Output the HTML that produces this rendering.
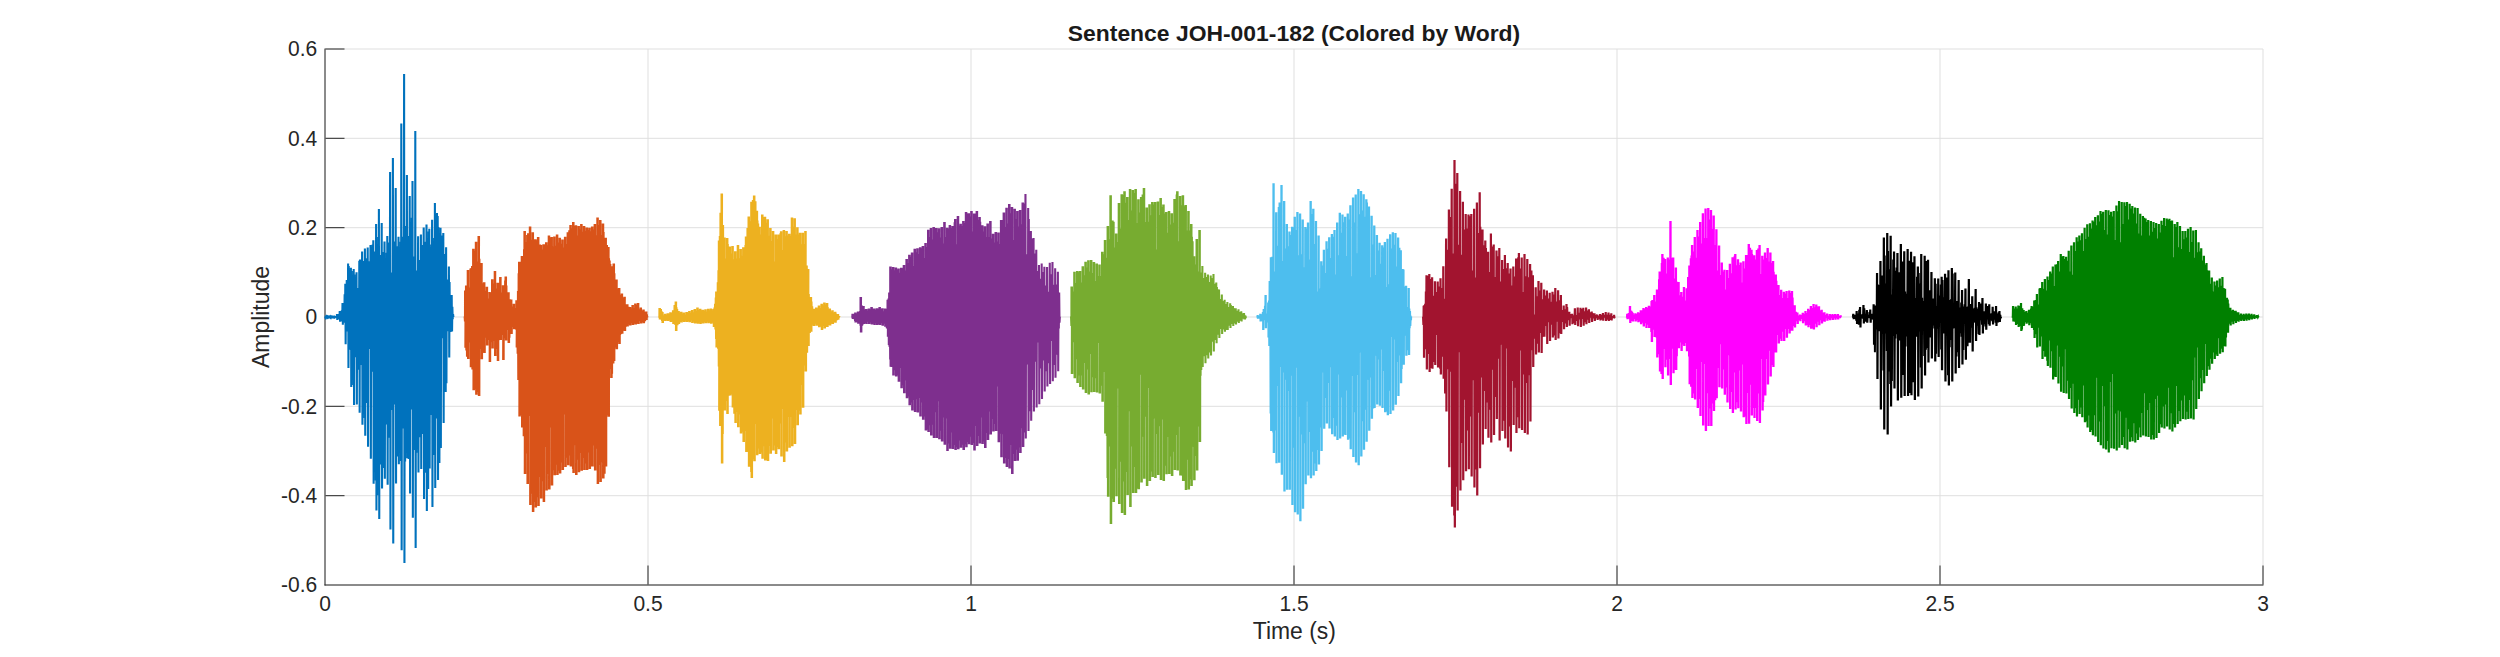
<!DOCTYPE html>
<html lang="en"><head><meta charset="utf-8"><title>Sentence JOH-001-182 (Colored by Word)</title>
<style>html,body{margin:0;padding:0;background:#fff}body{width:2500px;height:657px;overflow:hidden}svg{display:block}text{font-family:"Liberation Sans",sans-serif;fill:#262626}.tk{font-size:20.8px}.lb{font-size:22.9px}.tt{font-size:22.9px;font-weight:bold;fill:#1a1a1a}.wave polyline{fill:none;stroke-width:2;stroke-linejoin:miter;stroke-miterlimit:3}</style></head><body>
<svg width="2500" height="657" viewBox="0 0 2500 657">
<rect width="2500" height="657" fill="#fff"/>
<path d="M325.0 49.0V585.0M648.0 49.0V585.0M971.0 49.0V585.0M1294.0 49.0V585.0M1617.0 49.0V585.0M1940.0 49.0V585.0M2263.0 49.0V585.0M325.0 49.0H2263.0M325.0 138.3H2263.0M325.0 227.7H2263.0M325.0 317.0H2263.0M325.0 406.3H2263.0M325.0 495.7H2263.0M325.0 585.0H2263.0" stroke="#dfdfdf" stroke-width="1" fill="none"/>
<path d="M325.0 48.5V585.5M324.5 585.0H2263.5M648.0 584.5v-19.0M971.0 584.5v-19.0M1294.0 584.5v-19.0M1617.0 584.5v-19.0M1940.0 584.5v-19.0M2263.0 584.5v-19.0M325.5 49.0h19.0M325.5 138.3h19.0M325.5 227.7h19.0M325.5 317.0h19.0M325.5 406.3h19.0M325.5 495.7h19.0" stroke="#262626" stroke-width="1" fill="none"/>
<g class="wave">
<polyline points="325.00,316.7 325.35,317.5 325.65,316.6 325.75,316.6 326.00,317.6 326.10,317.6 326.40,316.8 326.75,317.5 327.10,316.8 327.45,317.4 327.80,316.7 328.15,317.2 328.45,316.6 328.55,316.6 328.80,317.6 328.90,317.6 329.20,316.8 329.55,317.2 329.90,316.7 330.25,317.2 330.60,316.6 330.95,317.4 331.25,316.6 331.35,316.6 331.60,317.6 331.70,317.6 332.00,316.8 332.35,317.1 332.70,316.7 333.05,317.1 333.40,316.8 333.75,317.2 334.05,316.5 334.15,316.5 334.40,317.8 334.50,317.8 334.80,316.4 335.15,317.4 335.50,316.2 335.85,317.3 336.20,316.2 336.55,317.3 336.85,315.1 336.95,315.1 337.20,319.1 337.30,319.1 337.60,315.4 337.95,317.4 338.30,314.2 338.65,317.5 339.00,314.8 339.35,319.5 339.65,312.0 339.75,312.0 340.00,320.7 340.10,320.7 340.40,312.1 340.75,319.5 341.10,312.9 341.45,318.8 341.80,310.3 342.15,321.5 342.45,304.1 342.55,304.1 342.80,323.8 342.90,323.8 343.20,308.7 343.55,320.3 343.90,304.4 344.25,320.1 344.60,294.2 344.95,322.7 345.25,284.7 345.35,284.7 345.60,343.3 345.70,343.3 346.00,287.6 346.35,331.5 346.70,279.9 347.05,323.1 347.40,283.8 347.75,325.2 348.05,264.4 348.15,264.4 348.40,367.1 348.50,367.1 348.80,266.0 349.15,327.1 349.50,277.6 349.85,330.2 350.20,272.0 350.55,349.7 350.85,268.8 350.95,268.8 351.20,386.0 351.30,386.0 351.60,271.1 351.95,376.6 352.30,283.0 352.65,329.1 353.00,291.3 353.35,384.9 353.65,269.9 353.75,269.9 354.00,404.0 354.10,404.0 354.40,274.5 354.75,357.3 355.10,284.4 355.45,338.6 355.80,288.8 356.15,333.2 356.45,273.3 356.55,273.3 356.80,403.4 356.90,403.4 357.20,287.9 357.55,349.4 357.90,288.7 358.25,369.7 358.60,291.1 358.95,339.5 359.25,261.7 359.35,261.7 359.60,411.8 359.70,411.8 360.00,259.4 360.35,365.1 360.70,278.0 361.05,353.3 361.40,260.1 361.75,341.2 362.05,252.4 362.15,252.4 362.40,423.8 362.50,423.8 362.80,276.7 363.15,355.3 363.50,260.9 363.85,410.6 364.20,281.3 364.55,417.9 364.85,249.4 364.95,249.4 365.20,434.8 365.30,434.8 365.60,258.3 365.95,336.5 366.30,273.7 366.65,403.1 367.00,282.8 367.35,374.9 367.65,248.4 367.75,248.4 368.00,445.8 368.10,445.8 368.40,261.3 368.75,340.8 369.10,279.4 369.45,349.0 369.80,279.3 370.15,348.4 370.45,246.1 370.55,246.1 370.80,457.8 370.90,457.8 371.20,274.0 371.55,346.0 371.90,247.0 372.25,361.5 372.60,244.6 372.95,371.8 373.25,241.3 373.35,241.3 373.60,482.8 373.70,482.8 374.00,251.6 374.35,387.9 374.70,263.4 375.05,460.9 375.40,261.4 375.75,480.5 376.05,225.1 376.15,225.1 376.40,509.6 376.50,509.6 376.80,251.3 377.15,495.2 377.50,261.2 377.85,451.9 378.20,237.0 378.55,428.6 378.85,210.0 378.95,210.0 379.20,518.0 379.30,518.0 379.60,255.1 379.95,365.9 380.30,262.3 380.65,344.2 381.00,264.0 381.35,464.4 381.65,224.0 381.75,224.0 382.00,487.5 382.10,487.5 382.40,251.9 382.75,370.4 383.10,255.8 383.45,397.9 383.80,270.7 384.15,468.1 384.45,242.6 384.55,242.6 384.80,477.7 384.90,477.7 385.20,263.0 385.55,344.1 385.90,279.2 386.25,359.5 386.60,252.8 386.95,424.4 387.25,237.0 387.35,237.0 387.60,483.7 387.70,483.7 388.00,242.4 388.35,437.7 388.70,244.8 389.05,385.0 389.40,242.9 389.75,347.9 390.05,173.0 390.15,173.0 390.40,528.5 390.50,528.5 390.80,272.5 391.15,357.9 391.50,274.3 391.85,403.3 392.20,277.2 392.55,409.9 392.85,159.0 392.95,159.0 393.20,542.4 393.30,542.4 393.60,277.4 393.95,361.4 394.30,241.6 394.65,387.9 395.00,248.6 395.35,404.4 395.65,189.0 395.75,189.0 396.00,482.5 396.10,482.5 396.40,260.3 396.75,340.8 397.10,249.1 397.45,456.4 397.80,246.3 398.15,338.6 398.45,237.7 398.55,237.7 398.80,463.3 398.90,463.3 399.20,275.6 399.55,394.0 399.90,247.4 400.25,358.7 400.60,241.8 400.95,460.9 401.25,124.4 401.35,124.4 401.60,549.2 401.70,549.2 402.00,236.8 402.35,357.9 402.70,252.5 403.05,428.5 403.40,249.1 403.75,354.5 404.05,75.0 404.15,75.0 404.40,562.0 404.50,562.0 404.80,232.9 405.15,461.4 405.50,258.6 405.85,421.4 406.20,226.1 406.55,443.5 406.85,176.0 406.95,176.0 407.20,457.2 407.30,457.2 407.60,235.9 407.95,343.6 408.30,238.5 408.65,459.1 409.00,246.5 409.35,348.9 409.65,197.0 409.75,197.0 410.00,492.4 410.10,492.4 410.40,255.8 410.75,362.6 411.10,256.1 411.45,409.6 411.80,217.8 412.15,365.3 412.45,182.0 412.55,182.0 412.80,516.7 412.90,516.7 413.20,259.0 413.55,356.1 413.90,256.4 414.25,381.4 414.60,266.8 414.95,450.0 415.25,132.0 415.35,132.0 415.60,547.0 415.70,547.0 416.00,270.6 416.35,452.7 416.70,271.4 417.05,348.6 417.40,273.3 417.75,344.0 418.05,237.3 418.15,237.3 418.40,471.6 418.50,471.6 418.80,272.5 419.15,424.9 419.50,259.9 419.85,342.8 420.20,266.1 420.55,437.2 420.85,235.4 420.95,235.4 421.20,467.9 421.30,467.9 421.60,273.7 421.95,406.9 422.30,245.0 422.65,433.9 423.00,249.4 423.35,359.5 423.65,228.4 423.75,228.4 424.00,498.0 424.10,498.0 424.40,242.3 424.75,349.0 425.10,265.0 425.45,385.8 425.80,241.7 426.15,472.8 426.45,225.6 426.55,225.6 426.80,510.0 426.90,510.0 427.20,238.6 427.55,404.2 427.90,243.3 428.25,489.0 428.60,231.6 428.95,435.7 429.25,229.8 429.35,229.8 429.60,467.6 429.70,467.6 430.00,252.7 430.35,342.6 430.70,247.3 431.05,415.1 431.40,244.4 431.75,367.0 432.05,220.8 432.15,220.8 432.40,506.0 432.50,506.0 432.80,265.5 433.15,455.1 433.50,241.0 433.85,363.5 434.20,237.9 434.55,416.3 434.85,204.0 434.95,204.0 435.20,487.0 435.30,487.0 435.60,214.2 435.95,359.5 436.30,260.4 436.65,418.5 437.00,213.1 437.35,343.6 437.65,217.1 437.75,217.1 438.00,479.1 438.10,479.1 438.40,227.1 438.75,342.2 439.10,270.3 439.45,463.0 439.80,270.9 440.15,340.6 440.45,228.8 440.55,228.8 440.80,447.1 440.90,447.1 441.20,244.7 441.55,338.2 441.90,235.4 442.25,338.0 442.60,245.7 442.95,333.9 443.25,234.0 443.35,234.0 443.60,422.0 443.70,422.0 444.00,269.5 444.35,337.9 444.70,254.0 445.05,342.9 445.40,279.9 445.75,392.1 446.05,248.3 446.15,248.3 446.40,382.2 446.50,382.2 446.80,279.6 447.15,331.2 447.50,281.3 447.85,324.0 448.20,286.8 448.55,330.8 448.85,267.5 448.95,267.5 449.20,356.5 449.30,356.5 449.60,281.9 449.95,329.3 450.30,300.3 450.65,331.9 451.00,302.2 451.35,324.4 451.65,295.9 451.75,295.9 452.00,330.4 452.10,330.4 452.40,306.7 452.75,319.3 453.10,314.2 453.45,317.2" stroke="#0072BD"/>
<polyline points="464.60,316.5 464.94,321.5 465.00,291.4 465.55,291.4 465.33,346.7 465.89,346.7 465.95,285.4 466.29,350.5 466.62,297.6 466.96,356.7 467.30,294.9 467.64,340.6 467.69,271.0 468.25,271.0 468.03,358.0 468.59,358.0 468.65,299.4 468.99,333.2 469.32,287.4 469.66,329.7 470.00,297.3 470.34,342.5 470.39,269.6 470.95,269.6 470.73,366.3 471.29,366.3 471.35,267.9 471.69,361.0 472.02,266.0 472.36,369.6 472.70,265.9 473.04,368.8 473.09,249.8 473.65,249.8 473.43,389.3 473.99,389.3 474.05,260.0 474.39,345.7 474.72,250.7 475.06,368.3 475.40,276.7 475.74,389.3 475.79,242.8 476.35,242.8 476.13,393.8 476.69,393.8 476.75,283.9 477.09,392.1 477.42,261.5 477.76,382.3 478.10,275.2 478.44,373.4 478.49,237.0 479.05,237.0 478.83,395.0 479.39,395.0 479.45,258.7 479.79,341.2 480.12,284.7 480.46,349.1 480.80,270.2 481.14,337.5 481.19,264.0 481.75,264.0 481.53,358.2 482.09,358.2 482.15,283.2 482.49,349.3 482.82,298.7 483.16,346.8 483.50,301.7 483.84,352.4 483.89,283.3 484.45,283.3 484.23,352.1 484.79,352.1 484.85,290.8 485.19,337.7 485.52,291.5 485.86,327.3 486.20,295.7 486.54,335.0 486.59,287.8 487.15,287.8 486.93,344.6 487.49,344.6 487.55,299.4 487.89,340.0 488.22,298.6 488.56,329.5 488.90,298.8 489.24,334.8 489.29,293.1 489.85,293.1 489.63,361.0 490.19,361.0 490.25,305.0 490.59,338.2 490.92,293.1 491.26,342.3 491.60,293.8 491.94,341.7 491.99,280.3 492.55,280.3 492.33,347.6 492.89,347.6 492.95,283.5 493.29,341.0 493.62,286.9 493.96,335.4 494.30,287.9 494.64,336.1 494.69,272.0 495.25,272.0 495.03,354.9 495.59,354.9 495.65,288.5 495.99,349.0 496.32,292.0 496.66,337.6 497.00,289.8 497.34,338.0 497.39,283.8 497.95,283.8 497.73,360.0 498.29,360.0 498.35,294.7 498.69,340.3 499.02,301.5 499.36,331.1 499.70,283.1 500.04,333.2 500.09,278.0 500.65,278.0 500.43,339.0 500.99,339.0 501.05,292.6 501.39,333.7 501.72,299.7 502.06,329.6 502.40,301.7 502.74,335.1 502.79,286.2 503.35,286.2 503.13,359.0 503.69,359.0 503.75,298.1 504.09,335.3 504.42,296.3 504.76,334.4 505.10,280.6 505.44,338.3 505.49,277.4 506.05,277.4 505.83,339.6 506.39,339.6 506.45,285.4 506.79,330.1 507.12,293.3 507.46,324.0 507.80,293.3 508.14,327.5 508.19,293.3 508.75,293.3 508.53,342.0 509.09,342.0 509.15,303.6 509.49,337.8 509.82,299.3 510.16,331.1 510.50,301.7 510.84,328.5 510.89,300.4 511.45,300.4 511.23,332.9 511.79,332.9 511.85,309.7 512.19,323.1 512.52,306.5 512.86,326.9 513.20,312.2 513.54,326.0 513.59,304.8 514.15,304.8 513.93,328.3 514.49,328.3 514.55,311.2 514.89,326.2 515.22,309.3 515.56,326.5 515.90,308.0 516.24,329.8 516.29,301.3 516.85,301.3 516.63,346.6 517.19,346.6 517.25,302.7 517.59,353.8 517.92,291.0 518.26,379.9 518.60,273.2 518.94,372.0 518.99,262.8 519.55,262.8 519.33,415.6 519.89,415.6 519.95,267.5 520.29,415.1 520.62,261.8 520.96,381.6 521.30,269.2 521.64,391.1 521.69,257.0 522.25,257.0 522.03,426.5 522.59,426.5 522.65,259.6 522.99,411.0 523.32,259.6 523.66,436.2 524.00,249.2 524.34,423.2 524.39,232.0 524.95,232.0 524.73,473.0 525.29,473.0 525.35,242.2 525.69,404.5 526.02,244.9 526.36,453.6 526.70,253.0 527.04,406.7 527.09,236.1 527.65,236.1 527.43,482.9 527.99,482.9 528.05,233.2 528.39,388.1 528.72,245.4 529.06,416.1 529.40,237.6 529.74,389.6 529.79,227.6 530.35,227.6 530.13,504.1 530.69,504.1 530.75,242.1 531.09,493.7 531.42,244.2 531.76,478.7 532.10,239.7 532.44,459.3 532.49,233.2 533.05,233.2 532.83,511.0 533.39,511.0 533.45,239.3 533.79,502.0 534.12,247.0 534.46,404.7 534.80,246.4 535.14,475.0 535.19,240.3 535.75,240.3 535.53,506.4 536.09,506.4 536.15,240.2 536.49,497.2 536.82,254.8 537.16,444.3 537.50,256.6 537.84,492.4 537.89,238.0 538.45,238.0 538.23,505.0 538.79,505.0 538.85,247.0 539.19,476.9 539.52,247.1 539.86,466.6 540.20,244.4 540.54,468.1 540.59,246.1 541.15,246.1 540.93,497.4 541.49,497.4 541.55,264.9 541.89,478.0 542.22,253.6 542.56,451.9 542.90,249.4 543.24,481.3 543.29,245.3 543.85,245.3 543.63,501.0 544.19,501.0 544.25,258.6 544.59,419.6 544.92,255.0 545.26,446.9 545.60,244.5 545.94,429.6 545.99,243.2 546.55,243.2 546.33,489.5 546.89,489.5 546.95,245.2 547.29,442.2 547.62,260.3 547.96,474.0 548.30,253.1 548.64,411.8 548.69,236.4 549.25,236.4 549.03,488.5 549.59,488.5 549.65,251.3 549.99,427.4 550.32,237.7 550.66,427.3 551.00,242.2 551.34,408.5 551.39,237.9 551.95,237.9 551.73,484.5 552.29,484.5 552.35,246.5 552.69,389.5 553.02,246.4 553.36,470.3 553.70,255.3 554.04,421.1 554.09,237.6 554.65,237.6 554.43,474.3 554.99,474.3 555.05,249.1 555.39,448.5 555.72,245.7 556.06,464.7 556.40,248.3 556.74,458.0 556.79,235.6 557.35,235.6 557.13,474.0 557.69,474.0 557.75,247.7 558.09,456.0 558.42,242.4 558.76,429.4 559.10,256.7 559.44,470.8 559.49,238.8 560.05,238.8 559.83,472.6 560.39,472.6 560.45,243.8 560.79,418.1 561.12,248.9 561.46,462.5 561.80,249.8 562.14,417.7 562.19,240.5 562.75,240.5 562.53,469.0 563.09,469.0 563.15,253.4 563.49,414.6 563.82,253.9 564.16,388.0 564.50,247.5 564.84,407.9 564.89,237.7 565.45,237.7 565.23,466.0 565.79,466.0 565.85,249.6 566.19,438.1 566.52,244.0 566.86,389.2 567.20,251.1 567.54,457.8 567.59,233.2 568.15,233.2 567.93,464.2 568.49,464.2 568.55,249.8 568.89,438.2 569.22,230.2 569.56,455.5 569.90,248.8 570.24,432.8 570.29,226.0 570.85,226.0 570.63,465.4 571.19,465.4 571.25,245.5 571.59,413.6 571.92,228.3 572.26,433.0 572.60,235.1 572.94,468.9 572.99,223.0 573.55,223.0 573.33,471.9 573.89,471.9 573.95,235.4 574.29,404.5 574.62,244.1 574.96,444.6 575.30,226.0 575.64,445.2 575.69,226.3 576.25,226.3 576.03,474.0 576.59,474.0 576.65,235.5 576.99,456.8 577.32,235.5 577.66,459.8 578.00,235.9 578.34,409.3 578.39,227.0 578.95,227.0 578.73,471.3 579.29,471.3 579.35,243.8 579.69,445.9 580.02,229.6 580.36,400.7 580.70,234.6 581.04,453.1 581.09,225.0 581.65,225.0 581.43,469.8 581.99,469.8 582.05,237.6 582.39,439.0 582.72,231.7 583.06,440.2 583.40,245.3 583.74,457.9 583.79,227.1 584.35,227.1 584.13,469.0 584.69,469.0 584.75,242.7 585.09,404.8 585.42,230.8 585.76,463.6 586.10,248.6 586.44,421.2 586.49,228.4 587.05,228.4 586.83,469.0 587.39,469.0 587.45,230.0 587.79,390.1 588.12,245.5 588.46,434.0 588.80,237.8 589.14,452.4 589.19,228.8 589.75,228.8 589.53,468.1 590.09,468.1 590.15,240.9 590.49,466.5 590.82,232.6 591.16,396.2 591.50,231.2 591.84,417.3 591.89,227.4 592.45,227.4 592.23,465.5 592.79,465.5 592.85,229.4 593.19,401.3 593.52,237.0 593.86,445.4 594.20,235.3 594.54,403.2 594.59,225.1 595.15,225.1 594.93,469.4 595.49,469.4 595.55,245.4 595.89,410.7 596.22,242.3 596.56,436.2 596.90,235.3 597.24,448.7 597.29,218.4 597.85,218.4 597.63,483.0 598.19,483.0 598.25,233.2 598.59,465.1 598.92,235.4 599.26,437.5 599.60,224.9 599.94,437.1 599.99,221.0 600.55,221.0 600.33,480.9 600.89,480.9 600.95,236.4 601.29,462.2 601.62,238.5 601.96,406.0 602.30,234.9 602.64,450.8 602.69,224.5 603.25,224.5 603.03,477.5 603.59,477.5 603.65,232.1 603.99,439.3 604.32,248.5 604.66,473.8 605.00,241.1 605.34,399.9 605.39,238.7 605.95,238.7 605.73,465.4 606.29,465.4 606.35,257.5 606.69,414.0 607.02,245.0 607.36,370.4 607.70,247.3 608.04,415.2 608.09,248.1 608.65,248.1 608.43,415.8 608.99,415.8 609.05,258.2 609.39,365.7 609.72,260.5 610.06,368.9 610.40,264.0 610.74,350.8 610.79,269.8 611.35,269.8 611.13,377.0 611.69,377.0 611.75,270.1 612.09,373.7 612.42,266.2 612.76,354.8 613.10,276.3 613.44,363.6 613.49,264.4 614.05,264.4 613.83,360.0 614.39,360.0 614.45,273.2 614.79,346.2 615.12,285.8 615.46,347.6 615.80,286.2 616.14,342.4 616.19,280.4 616.75,280.4 616.53,348.3 617.09,348.3 617.15,294.6 617.49,335.7 617.82,288.5 618.16,340.7 618.50,291.2 618.84,342.2 618.89,289.1 619.45,289.1 619.23,343.1 619.79,343.1 619.85,298.5 620.19,334.9 620.52,295.1 620.86,333.9 621.20,300.3 621.54,332.9 621.59,294.6 622.15,294.6 621.93,332.8 622.49,332.8 622.55,297.7 622.89,330.6 623.22,301.5 623.56,329.3 623.90,304.1 624.24,327.5 624.29,297.7 624.85,297.7 624.63,330.1 625.19,330.1 625.25,304.2 625.59,327.1 625.92,304.3 626.26,324.2 626.60,305.3 626.94,323.2 626.99,305.3 627.55,305.3 627.33,325.6 627.89,325.6 627.95,309.2 628.29,322.4 628.62,306.7 628.96,322.6 629.30,308.8 629.64,324.6 629.69,308.0 630.25,308.0 630.03,324.5 630.59,324.5 630.65,309.3 630.99,323.2 631.32,308.2 631.66,322.3 632.00,309.3 632.34,321.3 632.39,306.0 632.95,306.0 632.73,324.0 633.29,324.0 633.35,309.7 633.69,321.7 634.02,308.2 634.36,321.3 634.70,309.5 635.04,323.5 635.09,304.5 635.65,304.5 635.43,323.5 635.99,323.5 636.05,305.8 636.39,320.9 636.72,308.0 637.06,323.2 637.40,305.0 637.74,322.3 637.79,304.0 638.35,304.0 638.13,323.1 638.69,323.1 638.75,310.5 639.09,321.1 639.42,311.0 639.76,320.8 640.10,309.4 640.44,320.7 640.49,308.5 641.05,308.5 640.83,322.6 641.39,322.6 641.45,311.1 641.79,321.1 642.12,312.2 642.46,322.0 642.80,310.8 643.14,321.3 643.19,310.4 643.75,310.4 643.53,322.2 644.09,322.2 644.15,312.7 644.49,321.2 644.82,311.5 645.16,321.3 645.50,312.6 645.84,319.6 645.89,312.4 646.45,312.4 646.23,318.9 646.79,318.9 646.85,314.4 647.19,317.3 647.52,316.1" stroke="#D95319"/>
<polyline points="659.00,316.4 659.34,317.3 659.39,309.0 659.95,309.0 659.73,318.4 660.29,318.4 660.35,313.3 660.69,319.5 661.02,309.1 661.36,319.8 661.70,311.4 662.04,320.9 662.09,313.1 662.65,313.1 662.43,322.0 662.99,322.0 663.05,315.8 663.39,320.3 663.72,315.6 664.06,320.3 664.40,315.2 664.74,320.0 664.79,314.7 665.35,314.7 665.13,320.0 665.69,320.0 665.75,315.2 666.09,319.9 666.42,314.9 666.76,319.0 667.10,315.3 667.44,320.0 667.49,314.2 668.05,314.2 667.83,320.0 668.39,320.0 668.45,314.7 668.79,319.5 669.12,314.6 669.46,320.2 669.80,313.7 670.14,319.4 670.19,313.3 670.75,313.3 670.53,320.9 671.09,320.9 671.15,313.2 671.49,320.7 671.82,313.1 672.16,320.9 672.50,313.8 672.84,321.6 672.89,311.2 673.45,311.2 673.23,323.0 673.79,323.0 673.85,310.9 674.19,323.0 674.52,305.0 674.86,324.4 675.20,308.1 675.54,325.1 675.59,302.6 676.15,302.6 675.93,330.0 676.49,330.0 676.55,307.2 676.89,324.9 677.22,308.9 677.56,325.3 677.90,312.5 678.24,322.7 678.29,312.1 678.85,312.1 678.63,322.9 679.19,322.9 679.25,312.5 679.59,322.5 679.92,313.4 680.26,321.3 680.60,312.8 680.94,320.7 680.99,312.7 681.55,312.7 681.33,321.6 681.89,321.6 681.95,313.4 682.29,320.3 682.62,313.7 682.96,320.9 683.30,314.6 683.64,320.7 683.69,313.4 684.25,313.4 684.03,321.0 684.59,321.0 684.65,314.4 684.99,319.6 685.32,314.5 685.66,320.5 686.00,314.6 686.34,320.6 686.39,313.0 686.95,313.0 686.73,321.0 687.29,321.0 687.35,313.0 687.69,320.7 688.02,314.0 688.36,321.0 688.70,313.8 689.04,320.8 689.09,312.1 689.65,312.1 689.43,321.2 689.99,321.2 690.05,312.9 690.39,320.1 690.72,312.7 691.06,320.4 691.40,313.4 691.74,320.2 691.79,311.1 692.35,311.1 692.13,321.9 692.69,321.9 692.75,312.9 693.09,320.1 693.42,312.4 693.76,320.6 694.10,312.4 694.44,321.7 694.49,309.9 695.05,309.9 694.83,322.6 695.39,322.6 695.45,311.9 695.79,322.0 696.12,311.5 696.46,321.5 696.80,310.7 697.14,322.6 697.19,308.4 697.75,308.4 697.53,322.8 698.09,322.8 698.15,310.8 698.49,322.6 698.82,310.9 699.16,321.9 699.50,309.7 699.84,322.3 699.89,309.8 700.45,309.8 700.23,323.0 700.79,323.0 700.85,310.3 701.19,320.7 701.52,312.5 701.86,322.8 702.20,313.3 702.54,321.0 702.59,310.8 703.15,310.8 702.93,322.6 703.49,322.6 703.55,312.0 703.89,321.8 704.22,312.3 704.56,320.6 704.90,310.9 705.24,322.0 705.29,310.3 705.85,310.3 705.63,322.2 706.19,322.2 706.25,311.4 706.59,321.4 706.92,311.6 707.26,321.8 707.60,311.6 707.94,321.3 707.99,309.8 708.55,309.8 708.33,322.3 708.89,322.3 708.95,310.4 709.29,321.9 709.62,311.8 709.96,322.5 710.30,310.3 710.64,321.5 710.69,309.4 711.25,309.4 711.03,322.7 711.59,322.7 711.65,312.0 711.99,322.1 712.32,310.5 712.66,322.0 713.00,310.2 713.34,322.7 713.39,309.9 713.95,309.9 713.73,326.0 714.29,326.0 714.35,307.5 714.69,325.4 715.02,303.7 715.36,329.4 715.70,297.6 716.04,339.0 716.09,292.4 716.65,292.4 716.43,346.6 716.99,346.6 717.05,291.7 717.39,342.5 717.72,282.3 718.06,348.7 718.40,270.3 718.74,366.4 718.79,241.4 719.35,241.4 719.13,409.8 719.69,409.8 719.75,236.0 720.09,426.0 720.42,212.7 720.76,415.6 721.10,224.4 721.44,403.4 721.49,194.4 722.05,194.4 721.83,462.6 722.39,462.6 722.45,238.3 722.79,434.0 723.12,224.9 723.46,400.7 723.80,237.8 724.14,393.4 724.19,238.4 724.75,238.4 724.53,409.6 725.09,409.6 725.15,268.3 725.49,400.9 725.82,261.0 726.16,381.2 726.50,258.4 726.84,388.8 726.89,239.0 727.45,239.0 727.23,413.0 727.79,413.0 727.85,244.0 728.19,371.7 728.52,253.7 728.86,395.8 729.20,260.1 729.54,388.9 729.59,247.4 730.15,247.4 729.93,394.4 730.49,394.4 730.55,259.4 730.89,391.3 731.22,253.5 731.56,394.2 731.90,273.6 732.24,394.1 732.29,247.0 732.85,247.0 732.63,406.4 733.19,406.4 733.25,266.3 733.59,398.2 733.92,259.3 734.26,413.7 734.60,276.9 734.94,390.3 734.99,252.3 735.55,252.3 735.33,421.9 735.89,421.9 735.95,265.2 736.29,405.4 736.62,258.5 736.96,411.7 737.30,269.4 737.64,388.0 737.69,246.0 738.25,246.0 738.03,426.2 738.59,426.2 738.65,258.2 738.99,387.4 739.32,262.5 739.66,404.6 740.00,259.8 740.34,414.4 740.39,249.9 740.95,249.9 740.73,432.4 741.29,432.4 741.35,267.0 741.69,419.4 742.02,255.8 742.36,425.2 742.70,264.6 743.04,431.7 743.09,248.2 743.65,248.2 743.43,441.1 743.99,441.1 744.05,266.2 744.39,402.4 744.72,248.1 745.06,413.4 745.40,245.1 745.74,430.9 745.79,237.4 746.35,237.4 746.13,450.9 746.69,450.9 746.75,239.3 747.09,405.2 747.42,227.9 747.76,451.7 748.10,248.1 748.44,414.8 748.49,217.4 749.05,217.4 748.83,465.7 749.39,465.7 749.45,249.6 749.79,443.6 750.12,241.7 750.46,441.7 750.80,221.3 751.14,472.0 751.19,202.8 751.75,202.8 751.53,477.0 752.09,477.0 752.15,225.3 752.49,443.1 752.82,199.9 753.16,415.0 753.50,221.0 753.84,459.2 753.89,196.4 754.45,196.4 754.23,460.2 754.79,460.2 754.85,217.8 755.19,424.0 755.52,201.2 755.86,408.5 756.20,240.3 756.54,407.7 756.59,211.7 757.15,211.7 756.93,454.3 757.49,454.3 757.55,220.6 757.89,448.5 758.22,223.4 758.56,416.9 758.90,262.0 759.24,424.1 759.29,227.7 759.85,227.7 759.63,453.0 760.19,453.0 760.25,262.6 760.59,439.6 760.92,234.6 761.26,452.4 761.60,238.0 761.94,449.6 761.99,215.6 762.55,215.6 762.33,457.8 762.89,457.8 762.95,254.1 763.29,446.3 763.62,250.8 763.96,428.8 764.30,216.9 764.64,438.3 764.69,217.7 765.25,217.7 765.03,459.6 765.59,459.6 765.65,246.7 765.99,459.7 766.32,222.7 766.66,396.3 767.00,245.9 767.34,372.3 767.39,220.3 767.95,220.3 767.73,460.0 768.29,460.0 768.35,258.9 768.69,445.9 769.02,238.1 769.36,423.5 769.70,235.8 770.04,362.2 770.09,229.1 770.65,229.1 770.43,452.8 770.99,452.8 771.05,264.3 771.39,405.0 771.72,241.0 772.06,418.5 772.40,245.0 772.74,361.0 772.79,232.0 773.35,232.0 773.13,449.5 773.69,449.5 773.75,261.8 774.09,406.8 774.42,264.8 774.76,445.6 775.10,261.6 775.44,396.4 775.49,235.5 776.05,235.5 775.83,453.0 776.39,453.0 776.45,238.9 776.79,426.8 777.12,258.5 777.46,364.1 777.80,246.1 778.14,446.9 778.19,235.5 778.75,235.5 778.53,448.3 779.09,448.3 779.15,261.6 779.49,399.4 779.82,249.3 780.16,415.2 780.50,233.0 780.84,423.6 780.89,232.2 781.45,232.2 781.23,455.4 781.79,455.4 781.85,249.9 782.19,399.7 782.52,253.1 782.86,408.9 783.20,255.7 783.54,384.4 783.59,231.0 784.15,231.0 783.93,461.0 784.49,461.0 784.55,255.3 784.89,440.0 785.22,236.2 785.56,390.8 785.90,244.1 786.24,442.4 786.29,232.0 786.85,232.0 786.63,450.5 787.19,450.5 787.25,251.8 787.59,417.0 787.92,235.5 788.26,369.1 788.60,236.5 788.94,416.7 788.99,234.7 789.55,234.7 789.33,446.7 789.89,446.7 789.95,235.8 790.29,385.3 790.62,238.4 790.96,379.6 791.30,242.9 791.64,417.0 791.69,218.4 792.25,218.4 792.03,445.3 792.59,445.3 792.65,226.7 792.99,427.9 793.32,231.9 793.66,383.9 794.00,232.4 794.34,362.4 794.39,219.3 794.95,219.3 794.73,442.9 795.29,442.9 795.35,234.5 795.69,390.9 796.02,251.7 796.36,410.0 796.70,245.0 797.04,407.3 797.09,228.3 797.65,228.3 797.43,424.2 797.99,424.2 798.05,246.8 798.39,393.9 798.72,234.6 799.06,410.8 799.40,264.6 799.74,400.2 799.79,233.8 800.35,233.8 800.13,413.4 800.69,413.4 800.75,255.1 801.09,366.3 801.42,251.5 801.76,379.1 802.10,244.3 802.44,385.0 802.49,233.7 803.05,233.7 802.83,406.8 803.39,406.8 803.45,244.0 803.79,364.9 804.12,245.9 804.46,365.5 804.80,247.0 805.14,336.9 805.19,232.0 805.75,232.0 805.53,370.4 806.09,370.4 806.15,265.9 806.49,333.1 806.82,265.5 807.16,352.8 807.50,275.6 807.84,329.4 807.89,269.9 808.45,269.9 808.23,344.9 808.79,344.9 808.85,293.9 809.19,332.0 809.52,302.8 809.86,332.9 810.20,304.7 810.54,329.2 810.59,298.0 811.15,298.0 810.93,330.7 811.49,330.7 811.55,301.4 811.89,324.8 812.22,306.3 812.56,323.2 812.90,310.7 813.24,323.8 813.29,309.7 813.85,309.7 813.63,325.1 814.19,325.1 814.25,310.1 814.59,321.8 814.92,311.3 815.26,323.6 815.60,308.7 815.94,323.3 815.99,308.4 816.55,308.4 816.33,324.8 816.89,324.8 816.95,309.0 817.29,324.0 817.62,310.5 817.96,323.3 818.30,308.5 818.64,325.6 818.69,306.5 819.25,306.5 819.03,326.2 819.59,326.2 819.65,310.3 819.99,325.6 820.32,308.1 820.66,326.4 821.00,308.7 821.34,326.3 821.39,304.8 821.95,304.8 821.73,329.0 822.29,329.0 822.35,308.6 822.69,326.0 823.02,305.6 823.36,324.9 823.70,308.8 824.04,325.8 824.09,303.6 824.65,303.6 824.43,327.6 824.99,327.6 825.05,304.6 825.39,326.9 825.72,304.6 826.06,325.4 826.40,308.1 826.74,325.7 826.79,304.1 827.35,304.1 827.13,326.0 827.69,326.0 827.75,306.9 828.09,325.0 828.42,309.7 828.76,324.1 829.10,309.9 829.44,322.7 829.49,309.5 830.05,309.5 829.83,324.4 830.39,324.4 830.45,311.6 830.79,322.3 831.12,312.1 831.46,323.4 831.80,311.7 832.14,322.6 832.19,311.2 832.75,311.2 832.53,323.1 833.09,323.1 833.15,312.6 833.49,320.7 833.82,313.1 834.16,322.3 834.50,314.0 834.84,321.6 834.89,312.8 835.45,312.8 835.23,321.7 835.79,321.7 835.85,313.5 836.19,320.4 836.52,314.5 836.86,320.3 837.20,315.1 837.54,319.2 837.59,314.9 838.15,314.9 837.93,318.8 838.49,318.8 838.55,315.9 838.89,317.4 839.22,316.2 839.56,317.2" stroke="#EDB120"/>
<polyline points="852.00,316.4 852.34,317.3 852.39,314.8 852.95,314.8 852.73,318.1 853.29,318.1 853.35,314.6 853.69,318.3 854.02,314.6 854.36,319.3 854.70,314.1 855.04,320.9 855.09,313.4 855.65,313.4 855.43,321.4 855.99,321.4 856.05,313.5 856.39,320.1 856.72,313.5 857.06,320.4 857.40,314.0 857.74,322.3 857.79,312.6 858.35,312.6 858.13,322.7 858.69,322.7 858.75,313.6 859.09,322.6 859.42,312.9 859.76,322.2 860.10,311.1 860.44,325.7 860.49,298.0 861.05,298.0 860.83,331.4 861.39,331.4 861.45,305.0 861.79,326.0 862.12,310.4 862.46,325.2 862.80,309.2 863.14,320.7 863.19,307.0 863.75,307.0 863.53,323.0 864.09,323.0 864.15,309.7 864.49,321.2 864.82,309.9 865.16,322.9 865.50,309.5 865.84,322.7 865.89,309.9 866.45,309.9 866.23,323.0 866.79,323.0 866.85,311.8 867.19,321.8 867.52,311.8 867.86,321.8 868.20,310.5 868.54,320.7 868.59,309.6 869.15,309.6 868.93,323.0 869.49,323.0 869.55,309.7 869.89,322.4 870.22,309.2 870.56,321.0 870.90,310.1 871.24,321.8 871.29,308.0 871.85,308.0 871.63,323.5 872.19,323.5 872.25,308.6 872.59,322.9 872.92,311.2 873.26,322.0 873.60,309.7 873.94,323.7 873.99,309.6 874.55,309.6 874.33,323.9 874.89,323.9 874.95,311.2 875.29,323.1 875.62,310.0 875.96,322.3 876.30,311.1 876.64,320.9 876.69,309.2 877.25,309.2 877.03,324.0 877.59,324.0 877.65,309.7 877.99,324.0 878.32,310.9 878.66,322.4 879.00,308.8 879.34,323.2 879.39,308.0 879.95,308.0 879.73,324.0 880.29,324.0 880.35,309.0 880.69,323.3 881.02,309.7 881.36,321.9 881.70,308.9 882.04,323.0 882.09,309.2 882.65,309.2 882.43,324.7 882.99,324.7 883.05,311.5 883.39,322.7 883.72,311.8 884.06,322.7 884.40,311.4 884.74,323.7 884.79,309.6 885.35,309.6 885.13,325.8 885.69,325.8 885.75,309.8 886.09,322.4 886.42,311.2 886.76,328.3 887.10,309.0 887.44,328.8 887.49,300.8 888.05,300.8 887.83,335.8 888.39,335.8 888.45,298.5 888.79,345.0 889.12,292.4 889.46,346.7 889.80,297.9 890.14,359.5 890.19,267.6 890.75,267.6 890.53,365.8 891.09,365.8 891.15,269.3 891.49,366.9 891.82,269.4 892.16,363.9 892.50,269.7 892.84,363.5 892.89,267.9 893.45,267.9 893.23,374.5 893.79,374.5 893.85,276.5 894.19,370.3 894.52,270.2 894.86,355.5 895.20,279.5 895.54,362.4 895.59,268.6 896.15,268.6 895.93,375.5 896.49,375.5 896.55,269.5 896.89,375.2 897.22,272.3 897.56,370.1 897.90,278.6 898.24,364.8 898.29,269.5 898.85,269.5 898.63,380.7 899.19,380.7 899.25,278.9 899.59,358.2 899.92,278.5 900.26,367.9 900.60,272.7 900.94,355.7 900.99,268.7 901.55,268.7 901.33,387.2 901.89,387.2 901.95,269.8 902.29,379.6 902.62,272.9 902.96,368.6 903.30,268.2 903.64,385.3 903.69,266.0 904.25,266.0 904.03,392.2 904.59,392.2 904.65,276.3 904.99,376.4 905.32,273.4 905.66,364.5 906.00,270.5 906.34,380.6 906.39,260.0 906.95,260.0 906.73,397.3 907.29,397.3 907.35,268.8 907.69,380.7 908.02,263.3 908.36,385.9 908.70,269.9 909.04,396.6 909.09,255.8 909.65,255.8 909.43,404.2 909.99,404.2 910.05,259.4 910.39,399.0 910.72,256.8 911.06,402.5 911.40,259.3 911.74,400.3 911.79,253.6 912.35,253.6 912.13,409.4 912.69,409.4 912.75,265.9 913.09,384.4 913.42,267.7 913.76,390.7 914.10,269.2 914.44,400.1 914.49,249.8 915.05,249.8 914.83,411.0 915.39,411.0 915.45,266.0 915.79,399.2 916.12,252.2 916.46,372.3 916.80,264.3 917.14,385.0 917.19,249.3 917.75,249.3 917.53,411.4 918.09,411.4 918.15,257.1 918.49,389.9 918.82,254.9 919.16,398.1 919.50,254.0 919.84,387.2 919.89,248.2 920.45,248.2 920.23,415.5 920.79,415.5 920.85,252.5 921.19,378.4 921.52,248.2 921.86,402.5 922.20,260.6 922.54,397.5 922.59,247.0 923.15,247.0 922.93,418.8 923.49,418.8 923.55,261.5 923.89,393.1 924.22,259.3 924.56,416.6 924.90,258.0 925.24,382.5 925.29,244.0 925.85,244.0 925.63,429.6 926.19,429.6 926.25,262.2 926.59,429.4 926.92,251.5 927.26,412.4 927.60,247.1 927.94,386.1 927.99,230.8 928.55,230.8 928.33,430.9 928.89,430.9 928.95,249.6 929.29,407.9 929.62,244.2 929.96,395.3 930.30,236.9 930.64,425.2 930.69,229.0 931.25,229.0 931.03,434.5 931.59,434.5 931.65,254.2 931.99,401.2 932.32,239.6 932.66,424.7 933.00,242.6 933.34,413.8 933.39,228.0 933.95,228.0 933.73,437.0 934.29,437.0 934.35,245.5 934.69,405.7 935.02,228.2 935.36,402.2 935.70,252.7 936.04,412.2 936.09,228.9 936.65,228.9 936.43,437.0 936.99,437.0 937.05,232.8 937.39,400.4 937.72,236.2 938.06,398.4 938.40,232.2 938.74,401.2 938.79,229.3 939.35,229.3 939.13,438.2 939.69,438.2 939.75,246.4 940.09,394.2 940.42,237.6 940.76,417.8 941.10,240.1 941.44,430.8 941.49,228.0 942.05,228.0 941.83,440.4 942.39,440.4 942.45,243.5 942.79,417.5 943.12,246.1 943.46,401.5 943.80,245.0 944.14,408.6 944.19,223.0 944.75,223.0 944.53,443.8 945.09,443.8 945.15,247.3 945.49,406.4 945.82,237.0 946.16,413.9 946.50,246.0 946.84,418.4 946.89,228.8 947.45,228.8 947.23,450.0 947.79,450.0 947.85,228.7 948.19,443.5 948.52,240.7 948.86,423.8 949.20,240.5 949.54,411.0 949.59,226.0 950.15,226.0 949.93,447.8 950.49,447.8 950.55,245.8 950.89,432.4 951.22,235.8 951.56,412.6 951.90,228.0 952.24,420.3 952.29,226.9 952.85,226.9 952.63,448.0 953.19,448.0 953.25,228.5 953.59,401.2 953.92,238.3 954.26,443.8 954.60,222.3 954.94,444.9 954.99,219.9 955.55,219.9 955.33,449.0 955.89,449.0 955.95,246.4 956.29,423.4 956.62,244.2 956.96,446.9 957.30,247.0 957.64,416.2 957.69,217.0 958.25,217.0 958.03,448.2 958.59,448.2 958.65,234.1 958.99,398.8 959.32,225.6 959.66,434.0 960.00,239.3 960.34,440.4 960.39,224.7 960.95,224.7 960.73,446.7 961.29,446.7 961.35,228.8 961.69,443.3 962.02,234.6 962.36,416.2 962.70,226.1 963.04,444.7 963.09,221.9 963.65,221.9 963.43,449.0 963.99,449.0 964.05,223.0 964.39,433.7 964.72,238.7 965.06,429.4 965.40,235.1 965.74,444.2 965.79,213.0 966.35,213.0 966.13,446.2 966.69,446.2 966.75,242.1 967.09,414.5 967.42,213.5 967.76,406.2 968.10,228.1 968.44,442.0 968.49,214.2 969.05,214.2 968.83,443.3 969.39,443.3 969.45,219.1 969.79,397.6 970.12,216.6 970.46,436.8 970.80,238.2 971.14,426.3 971.19,212.0 971.75,212.0 971.53,444.0 972.09,444.0 972.15,231.4 972.49,416.7 972.82,234.2 973.16,412.4 973.50,237.0 973.84,443.1 973.89,214.5 974.45,214.5 974.23,449.6 974.79,449.6 974.85,222.4 975.19,425.9 975.52,233.4 975.86,417.6 976.20,213.5 976.54,415.9 976.59,212.0 977.15,212.0 976.93,445.0 977.49,445.0 977.55,232.5 977.89,435.4 978.22,239.5 978.56,431.8 978.90,219.7 979.24,436.1 979.29,217.9 979.85,217.9 979.63,442.5 980.19,442.5 980.25,221.8 980.59,409.0 980.92,235.9 981.26,405.0 981.60,249.3 981.94,417.4 981.99,226.3 982.55,226.3 982.33,442.9 982.89,442.9 982.95,252.9 983.29,441.5 983.62,245.7 983.96,411.5 984.30,231.4 984.64,441.3 984.69,227.3 985.25,227.3 985.03,447.0 985.59,447.0 985.65,254.0 985.99,432.9 986.32,258.4 986.66,428.7 987.00,237.1 987.34,401.6 987.39,224.5 987.95,224.5 987.73,439.0 988.29,439.0 988.35,237.2 988.69,411.6 989.02,257.2 989.36,402.8 989.70,245.6 990.04,402.2 990.09,222.0 990.65,222.0 990.43,433.6 990.99,433.6 991.05,238.5 991.39,365.8 991.72,238.9 992.06,399.6 992.40,272.8 992.74,419.0 992.79,234.7 993.35,234.7 993.13,430.6 993.69,430.6 993.75,242.4 994.09,398.7 994.42,274.0 994.76,418.0 995.10,248.4 995.44,423.9 995.49,233.0 996.05,233.0 995.83,430.0 996.39,430.0 996.45,241.4 996.79,386.3 997.12,262.5 997.46,386.6 997.80,275.7 998.14,381.7 998.19,233.5 998.75,233.5 998.53,441.3 999.09,441.3 999.15,244.0 999.49,401.3 999.82,252.4 1000.16,392.8 1000.50,258.6 1000.84,433.7 1000.89,221.0 1001.45,221.0 1001.23,456.3 1001.79,456.3 1001.85,248.0 1002.19,420.5 1002.52,220.1 1002.86,397.0 1003.20,241.8 1003.54,434.3 1003.59,213.4 1004.15,213.4 1003.93,462.5 1004.49,462.5 1004.55,242.5 1004.89,397.2 1005.22,227.0 1005.56,448.2 1005.90,233.2 1006.24,458.0 1006.29,208.8 1006.85,208.8 1006.63,466.1 1007.19,466.1 1007.25,223.5 1007.59,458.9 1007.92,228.3 1008.26,430.9 1008.60,243.5 1008.94,428.3 1008.99,205.0 1009.55,205.0 1009.33,467.4 1009.89,467.4 1009.95,218.7 1010.29,444.8 1010.62,213.3 1010.96,384.3 1011.30,222.9 1011.64,421.8 1011.69,208.0 1012.25,208.0 1012.03,473.0 1012.59,473.0 1012.65,240.7 1012.99,454.0 1013.32,261.7 1013.66,403.0 1014.00,240.1 1014.34,450.3 1014.39,209.7 1014.95,209.7 1014.73,460.0 1015.29,460.0 1015.35,253.8 1015.69,400.2 1016.02,237.9 1016.36,430.3 1016.70,219.0 1017.04,449.7 1017.09,211.9 1017.65,211.9 1017.43,459.7 1017.99,459.7 1018.05,234.3 1018.39,405.9 1018.72,226.5 1019.06,447.4 1019.40,242.9 1019.74,447.1 1019.79,210.9 1020.35,210.9 1020.13,452.1 1020.69,452.1 1020.75,224.3 1021.09,394.9 1021.42,234.0 1021.76,409.2 1022.10,256.3 1022.44,428.3 1022.49,203.4 1023.05,203.4 1022.83,446.0 1023.39,446.0 1023.45,247.1 1023.79,429.2 1024.12,203.4 1024.46,432.5 1024.80,230.9 1025.14,360.1 1025.42,195.0 1025.52,195.0 1025.76,437.4 1025.86,437.4 1026.15,254.3 1026.49,351.2 1026.82,267.1 1027.16,358.5 1027.50,268.3 1027.84,364.6 1028.12,209.0 1028.22,209.0 1028.46,430.0 1028.56,430.0 1028.85,218.9 1029.19,410.6 1029.52,253.2 1029.86,411.2 1030.20,266.9 1030.54,394.8 1030.82,232.1 1030.92,232.1 1031.16,419.7 1031.26,419.7 1031.55,238.6 1031.89,368.2 1032.22,271.4 1032.56,386.1 1032.90,277.9 1033.24,390.0 1033.52,239.0 1033.62,239.0 1033.86,410.5 1033.96,410.5 1034.25,282.9 1034.59,344.6 1034.92,253.4 1035.26,339.7 1035.60,283.7 1035.94,361.8 1036.22,250.8 1036.32,250.8 1036.56,406.4 1036.66,406.4 1036.95,284.1 1037.29,342.4 1037.62,270.9 1037.96,340.0 1038.30,294.2 1038.64,342.3 1038.92,266.0 1039.02,266.0 1039.26,403.3 1039.36,403.3 1039.65,278.7 1039.99,358.7 1040.32,285.6 1040.66,368.6 1041.00,282.2 1041.34,344.8 1041.62,264.4 1041.72,264.4 1041.96,398.0 1042.06,398.0 1042.35,276.5 1042.69,360.6 1043.02,276.3 1043.36,336.3 1043.70,272.1 1044.04,343.9 1044.32,267.8 1044.42,267.8 1044.66,390.6 1044.76,390.6 1045.05,287.3 1045.39,371.3 1045.72,285.5 1046.06,358.9 1046.40,294.8 1046.74,353.4 1047.02,267.9 1047.12,267.9 1047.36,385.6 1047.46,385.6 1047.75,293.8 1048.09,345.7 1048.42,291.7 1048.76,363.3 1049.10,292.7 1049.44,333.7 1049.72,263.7 1049.82,263.7 1050.06,382.9 1050.16,382.9 1050.45,285.3 1050.79,335.5 1051.12,291.5 1051.46,341.0 1051.80,274.2 1052.14,333.0 1052.42,263.0 1052.52,263.0 1052.76,380.2 1052.86,380.2 1053.15,284.8 1053.49,338.6 1053.82,292.8 1054.16,333.9 1054.50,292.1 1054.84,365.1 1055.12,269.2 1055.22,269.2 1055.46,376.7 1055.56,376.7 1055.85,284.4 1056.19,331.7 1056.52,296.2 1056.86,354.8 1057.20,285.5 1057.54,335.4 1057.82,272.8 1057.92,272.8 1058.16,370.3 1058.26,370.3 1058.55,294.7 1058.89,328.6 1059.22,292.5 1059.56,322.7 1059.90,316.7" stroke="#7E2F8E"/>
<polyline points="1071.00,316.5 1071.35,325.9 1071.42,287.4 1071.98,287.4 1071.76,373.1 1072.32,373.1 1072.39,294.7 1072.74,333.6 1073.09,291.6 1073.43,332.4 1073.78,293.5 1074.13,342.3 1074.20,272.8 1074.76,272.8 1074.54,377.3 1075.10,377.3 1075.17,283.1 1075.52,359.2 1075.87,289.7 1076.21,341.2 1076.56,292.5 1076.91,347.7 1076.98,272.0 1077.54,272.0 1077.32,382.1 1077.88,382.1 1077.95,294.3 1078.30,375.6 1078.65,272.3 1078.99,341.6 1079.34,280.6 1079.69,370.4 1079.76,271.9 1080.32,271.9 1080.10,385.9 1080.66,385.9 1080.73,282.5 1081.08,375.4 1081.43,292.5 1081.77,348.4 1082.12,292.7 1082.47,373.8 1082.54,267.3 1083.10,267.3 1082.88,388.6 1083.44,388.6 1083.51,275.2 1083.86,363.1 1084.21,289.8 1084.55,352.6 1084.90,275.2 1085.25,343.4 1085.32,262.7 1085.88,262.7 1085.66,391.9 1086.22,391.9 1086.29,275.5 1086.64,352.3 1086.99,288.9 1087.33,337.4 1087.68,267.4 1088.03,369.4 1088.10,261.2 1088.66,261.2 1088.44,393.4 1089.00,393.4 1089.07,276.8 1089.42,353.9 1089.77,271.4 1090.11,343.4 1090.46,279.2 1090.81,350.0 1090.88,261.0 1091.44,261.0 1091.22,391.3 1091.78,391.3 1091.85,288.9 1092.20,336.2 1092.55,287.2 1092.89,377.3 1093.24,273.0 1093.59,368.4 1093.66,262.9 1094.22,262.9 1094.00,390.9 1094.56,390.9 1094.63,281.8 1094.98,378.2 1095.33,280.9 1095.67,360.0 1096.02,284.6 1096.37,337.5 1096.44,264.6 1097.00,264.6 1096.78,391.6 1097.34,391.6 1097.41,285.6 1097.76,340.6 1098.11,275.9 1098.45,342.9 1098.80,279.8 1099.15,340.8 1099.22,265.5 1099.78,265.5 1099.56,392.6 1100.12,392.6 1100.19,282.9 1100.54,385.8 1100.89,275.9 1101.23,369.2 1101.58,282.8 1101.93,378.4 1102.00,252.7 1102.56,252.7 1102.34,400.7 1102.90,400.7 1102.97,254.3 1103.32,372.0 1103.67,255.0 1104.01,368.2 1104.36,257.4 1104.71,347.1 1104.78,241.0 1105.34,241.0 1105.12,432.4 1105.68,432.4 1105.75,275.4 1106.10,363.2 1106.45,257.7 1106.79,436.0 1107.14,271.3 1107.49,478.0 1107.56,226.9 1108.12,226.9 1107.90,495.7 1108.46,495.7 1108.53,239.2 1108.88,415.4 1109.23,255.4 1109.57,380.2 1109.92,261.6 1110.27,446.4 1110.34,196.2 1110.90,196.2 1110.68,523.0 1111.24,523.0 1111.31,244.1 1111.66,498.8 1112.01,252.5 1112.35,495.0 1112.70,220.4 1113.05,379.8 1113.12,222.7 1113.68,222.7 1113.46,501.1 1114.02,501.1 1114.09,247.4 1114.44,467.3 1114.79,257.2 1115.13,412.5 1115.48,265.6 1115.83,468.8 1115.90,234.6 1116.46,234.6 1116.24,495.3 1116.80,495.3 1116.87,248.2 1117.22,386.7 1117.57,266.7 1117.91,380.3 1118.26,242.1 1118.61,388.5 1118.68,204.1 1119.24,204.1 1119.02,503.1 1119.58,503.1 1119.65,248.6 1120.00,461.8 1120.35,257.8 1120.69,416.8 1121.04,228.5 1121.39,376.4 1121.46,195.2 1122.02,195.2 1121.80,512.1 1122.36,512.1 1122.43,194.7 1122.78,481.5 1123.13,250.7 1123.47,465.4 1123.82,236.1 1124.17,383.7 1124.24,192.2 1124.80,192.2 1124.58,514.0 1125.14,514.0 1125.21,208.7 1125.56,399.5 1125.91,257.9 1126.25,471.9 1126.60,202.7 1126.95,410.0 1127.02,197.9 1127.58,197.9 1127.36,494.1 1127.92,494.1 1127.99,220.0 1128.34,411.2 1128.69,240.6 1129.03,387.0 1129.38,243.5 1129.73,374.3 1129.80,190.1 1130.36,190.1 1130.14,506.0 1130.70,506.0 1130.77,254.2 1131.12,446.6 1131.47,210.6 1131.81,398.8 1132.16,225.4 1132.51,380.4 1132.58,191.1 1133.14,191.1 1132.92,492.0 1133.48,492.0 1133.55,214.0 1133.90,408.8 1134.25,193.0 1134.59,466.9 1134.94,226.7 1135.29,436.0 1135.36,190.1 1135.92,190.1 1135.70,492.0 1136.26,492.0 1136.33,222.9 1136.68,472.1 1137.03,246.4 1137.37,488.6 1137.72,255.2 1138.07,413.7 1138.14,200.3 1138.70,200.3 1138.48,488.2 1139.04,488.2 1139.11,222.0 1139.46,368.8 1139.81,245.7 1140.15,374.7 1140.50,212.5 1140.85,368.5 1140.92,198.0 1141.48,198.0 1141.26,481.5 1141.82,481.5 1141.89,221.9 1142.24,431.8 1142.59,194.4 1142.93,366.5 1143.28,220.1 1143.63,436.7 1143.70,189.0 1144.26,189.0 1144.04,477.7 1144.60,477.7 1144.67,255.5 1145.02,366.8 1145.37,221.9 1145.71,416.7 1146.06,256.1 1146.41,366.0 1146.48,208.6 1147.04,208.6 1146.82,485.0 1147.38,485.0 1147.45,226.9 1147.80,388.1 1148.15,221.7 1148.49,369.7 1148.84,242.1 1149.19,369.3 1149.26,205.2 1149.82,205.2 1149.60,480.0 1150.16,480.0 1150.23,254.4 1150.58,471.5 1150.93,228.7 1151.27,384.5 1151.62,215.3 1151.97,388.5 1152.04,203.1 1152.60,203.1 1152.38,475.9 1152.94,475.9 1153.01,204.4 1153.36,365.8 1153.71,224.2 1154.05,379.8 1154.40,244.3 1154.75,418.5 1154.82,203.1 1155.38,203.1 1155.16,477.0 1155.72,477.0 1155.79,258.2 1156.14,434.0 1156.49,254.2 1156.83,401.2 1157.18,249.5 1157.53,375.4 1157.60,202.4 1158.16,202.4 1157.94,474.0 1158.50,474.0 1158.57,228.8 1158.92,426.2 1159.27,215.1 1159.61,377.4 1159.96,256.7 1160.31,398.1 1160.38,198.9 1160.94,198.9 1160.72,479.0 1161.28,479.0 1161.35,206.9 1161.70,419.4 1162.05,243.2 1162.39,370.4 1162.74,220.6 1163.09,407.4 1163.16,205.4 1163.72,205.4 1163.50,480.0 1164.06,480.0 1164.13,213.6 1164.48,465.8 1164.83,226.6 1165.17,405.7 1165.52,256.6 1165.87,420.2 1165.94,212.9 1166.50,212.9 1166.28,473.2 1166.84,473.2 1166.91,263.8 1167.26,363.6 1167.61,232.7 1167.95,383.2 1168.30,235.5 1168.65,436.9 1168.72,211.9 1169.28,211.9 1169.06,473.0 1169.62,473.0 1169.69,229.7 1170.04,420.1 1170.39,224.4 1170.73,456.5 1171.08,266.4 1171.43,377.7 1171.50,214.2 1172.06,214.2 1171.84,475.0 1172.40,475.0 1172.47,260.5 1172.82,451.8 1173.17,262.1 1173.51,370.4 1173.86,222.8 1174.21,372.6 1174.28,200.0 1174.84,200.0 1174.62,468.9 1175.18,468.9 1175.25,217.5 1175.60,391.9 1175.95,253.0 1176.29,375.3 1176.64,194.5 1176.99,435.0 1177.06,192.2 1177.62,192.2 1177.40,469.4 1177.96,469.4 1178.03,241.3 1178.38,426.8 1178.73,246.3 1179.07,367.8 1179.42,256.4 1179.77,379.6 1179.84,197.0 1180.40,197.0 1180.18,474.6 1180.74,474.6 1180.81,222.9 1181.16,434.4 1181.51,251.6 1181.85,386.2 1182.20,205.2 1182.55,475.8 1182.62,196.2 1183.18,196.2 1182.96,479.9 1183.52,479.9 1183.59,206.3 1183.94,480.9 1184.29,250.9 1184.63,425.8 1184.98,247.5 1185.33,401.9 1185.40,206.0 1185.96,206.0 1185.74,489.0 1186.30,489.0 1186.37,261.8 1186.72,446.7 1187.07,230.6 1187.41,459.7 1187.76,259.9 1188.11,380.5 1188.18,212.1 1188.74,212.1 1188.52,488.4 1189.08,488.4 1189.15,249.4 1189.50,377.5 1189.85,244.7 1190.19,479.6 1190.54,230.5 1190.89,467.7 1190.96,224.9 1191.52,224.9 1191.30,485.0 1191.86,485.0 1191.93,236.8 1192.28,446.7 1192.63,241.2 1192.97,392.3 1193.32,275.2 1193.67,377.8 1193.74,257.2 1194.30,257.2 1194.08,479.2 1194.64,479.2 1194.71,277.7 1195.06,456.0 1195.41,274.4 1195.75,395.2 1196.10,264.6 1196.45,373.4 1196.52,239.9 1197.08,239.9 1196.86,469.6 1197.42,469.6 1197.49,271.5 1197.84,398.2 1198.19,273.9 1198.53,426.5 1198.88,272.5 1199.23,382.3 1199.30,231.1 1199.86,231.1 1199.64,441.0 1200.20,441.0 1200.27,281.1 1200.62,375.7 1200.97,278.2 1201.31,369.9 1201.66,272.4 1202.01,343.4 1202.31,267.0 1202.41,267.0 1202.65,366.0 1202.75,366.0 1203.05,277.9 1203.40,342.2 1203.75,284.2 1204.09,353.4 1204.44,278.3 1204.79,356.3 1205.09,273.8 1205.19,273.8 1205.43,362.3 1205.53,362.3 1205.83,284.0 1206.18,351.5 1206.53,278.3 1206.87,344.2 1207.22,277.1 1207.57,355.2 1207.87,275.6 1207.97,275.6 1208.21,357.5 1208.31,357.5 1208.61,286.2 1208.96,338.0 1209.31,282.0 1209.65,352.5 1210.00,292.0 1210.35,348.3 1210.65,276.5 1210.75,276.5 1210.99,354.6 1211.09,354.6 1211.39,278.1 1211.74,341.8 1212.09,289.9 1212.43,335.2 1212.78,280.3 1213.13,337.8 1213.43,275.0 1213.53,275.0 1213.77,350.5 1213.87,350.5 1214.17,286.2 1214.52,337.1 1214.87,283.8 1215.21,340.1 1215.56,287.0 1215.91,332.6 1216.21,283.6 1216.31,283.6 1216.55,342.3 1216.65,342.3 1216.95,287.0 1217.30,334.8 1217.65,289.2 1217.99,334.8 1218.34,295.3 1218.69,330.5 1218.99,290.6 1219.09,290.6 1219.33,337.0 1219.43,337.0 1219.73,300.7 1220.08,329.1 1220.43,298.9 1220.77,326.0 1221.12,301.0 1221.47,326.8 1221.77,295.5 1221.87,295.5 1222.11,333.1 1222.21,333.1 1222.51,301.1 1222.86,328.7 1223.21,302.2 1223.55,325.3 1223.90,304.9 1224.25,329.6 1224.55,300.7 1224.65,300.7 1224.89,330.7 1224.99,330.7 1225.29,307.9 1225.64,329.9 1225.99,304.1 1226.33,326.4 1226.68,304.5 1227.03,326.0 1227.33,303.0 1227.43,303.0 1227.67,328.9 1227.77,328.9 1228.07,306.9 1228.42,325.8 1228.77,308.0 1229.11,325.8 1229.46,308.1 1229.81,325.3 1230.11,304.2 1230.21,304.2 1230.45,326.9 1230.55,326.9 1230.85,304.9 1231.20,324.0 1231.55,307.1 1231.89,321.4 1232.24,310.4 1232.59,323.6 1232.89,306.9 1232.99,306.9 1233.23,324.9 1233.33,324.9 1233.63,308.1 1233.98,320.8 1234.33,308.9 1234.67,323.5 1235.02,310.6 1235.37,321.4 1235.67,309.2 1235.77,309.2 1236.01,323.5 1236.11,323.5 1236.41,310.8 1236.76,321.8 1237.11,311.5 1237.45,320.3 1237.80,312.8 1238.15,319.9 1238.45,310.3 1238.55,310.3 1238.79,322.1 1238.89,322.1 1239.19,313.2 1239.54,319.7 1239.89,312.7 1240.23,320.2 1240.58,312.1 1240.93,320.6 1241.23,312.2 1241.33,312.2 1241.57,320.5 1241.67,320.5 1241.97,313.9 1242.32,318.6 1242.67,313.2 1243.01,318.4 1243.36,314.3 1243.71,318.1 1244.01,314.1 1244.11,314.1 1244.35,318.4 1244.45,318.4 1244.75,315.5 1245.10,317.5 1245.45,315.8 1245.79,317.2 1246.14,316.5" stroke="#77AC30"/>
<polyline points="1257.00,316.8 1257.33,317.1 1257.50,316.1 1257.82,316.1 1257.83,317.7 1258.15,317.7 1258.32,316.2 1258.66,318.5 1258.99,316.3 1259.32,317.5 1259.65,316.1 1259.98,317.7 1260.15,314.8 1260.47,314.8 1260.48,320.6 1260.80,320.6 1260.97,315.8 1261.31,320.7 1261.64,314.8 1261.97,318.5 1262.30,314.4 1262.63,321.3 1262.80,313.0 1263.12,313.0 1263.13,329.0 1263.45,329.0 1263.62,309.1 1263.96,320.3 1264.29,313.2 1264.62,319.8 1264.95,305.7 1265.28,320.1 1265.45,296.0 1265.77,296.0 1265.78,327.3 1266.10,327.3 1266.27,313.6 1266.61,318.9 1266.94,314.9 1267.27,322.5 1267.60,313.7 1267.93,321.8 1268.10,303.5 1268.42,303.5 1268.43,336.4 1268.75,336.4 1268.92,300.5 1269.26,346.1 1269.59,280.9 1269.92,337.2 1270.25,299.4 1270.58,413.6 1270.75,258.2 1271.07,258.2 1271.08,430.0 1271.40,430.0 1271.57,299.8 1271.91,341.0 1272.24,256.8 1272.57,354.1 1272.90,277.7 1273.23,432.4 1273.40,184.2 1273.72,184.2 1273.73,451.9 1274.05,451.9 1274.22,271.5 1274.56,348.8 1274.89,282.8 1275.22,368.6 1275.55,273.0 1275.88,430.6 1276.05,213.3 1276.37,213.3 1276.38,462.3 1276.70,462.3 1276.87,290.4 1277.21,380.6 1277.54,245.7 1277.87,366.0 1278.20,263.1 1278.53,386.1 1278.70,207.9 1279.02,207.9 1279.03,461.8 1279.35,461.8 1279.52,202.5 1279.86,354.1 1280.19,206.3 1280.52,367.0 1280.85,281.8 1281.18,347.0 1281.35,186.1 1281.67,186.1 1281.68,473.7 1282.00,473.7 1282.17,269.6 1282.51,368.7 1282.84,261.1 1283.17,372.6 1283.50,286.6 1283.83,356.5 1284.00,201.9 1284.32,201.9 1284.33,490.6 1284.65,490.6 1284.82,248.5 1285.16,375.1 1285.49,255.6 1285.82,361.5 1286.15,284.9 1286.48,379.8 1286.65,225.1 1286.97,225.1 1286.98,488.8 1287.30,488.8 1287.47,294.4 1287.81,351.3 1288.14,246.3 1288.47,359.7 1288.80,295.5 1289.13,391.0 1289.30,232.5 1289.62,232.5 1289.63,488.7 1289.95,488.7 1290.12,294.7 1290.46,367.2 1290.79,292.0 1291.12,352.3 1291.45,235.0 1291.78,375.8 1291.95,227.7 1292.27,227.7 1292.28,504.1 1292.60,504.1 1292.77,227.2 1293.11,447.8 1293.44,289.8 1293.77,358.0 1294.10,275.0 1294.43,397.8 1294.60,217.7 1294.92,217.7 1294.93,511.2 1295.25,511.2 1295.42,229.9 1295.76,367.8 1296.09,267.3 1296.42,357.0 1296.75,272.6 1297.08,356.4 1297.25,213.0 1297.57,213.0 1297.58,513.6 1297.90,513.6 1298.07,285.6 1298.41,366.3 1298.74,255.3 1299.07,357.5 1299.40,290.7 1299.73,416.7 1299.90,214.4 1300.22,214.4 1300.23,520.3 1300.55,520.3 1300.72,254.2 1301.06,417.0 1301.39,270.9 1301.72,434.6 1302.05,291.9 1302.38,360.4 1302.55,220.5 1302.87,220.5 1302.88,507.8 1303.20,507.8 1303.37,276.0 1303.71,359.5 1304.04,283.2 1304.37,443.2 1304.70,267.2 1305.03,370.4 1305.20,228.1 1305.52,228.1 1305.53,483.2 1305.85,483.2 1306.02,269.2 1306.36,367.7 1306.69,245.6 1307.02,401.5 1307.35,228.6 1307.68,395.6 1307.85,223.5 1308.17,223.5 1308.18,474.4 1308.50,474.4 1308.67,259.4 1309.01,432.0 1309.34,291.6 1309.67,369.6 1310.00,264.7 1310.33,348.8 1310.50,202.1 1310.82,202.1 1310.83,477.2 1311.15,477.2 1311.32,214.0 1311.66,360.8 1311.99,272.9 1312.32,451.7 1312.65,277.9 1312.98,431.1 1313.15,209.8 1313.47,209.8 1313.48,474.6 1313.80,474.6 1313.97,286.2 1314.31,351.3 1314.64,279.7 1314.97,349.6 1315.30,243.9 1315.63,463.6 1315.80,222.0 1316.12,222.0 1316.13,469.9 1316.45,469.9 1316.62,294.1 1316.96,449.9 1317.29,294.8 1317.62,395.0 1317.95,291.4 1318.28,349.2 1318.45,236.5 1318.77,236.5 1318.78,463.5 1319.10,463.5 1319.27,298.6 1319.61,427.4 1319.94,288.6 1320.27,349.0 1320.60,302.2 1320.93,384.3 1321.10,262.2 1321.42,262.2 1321.43,449.9 1321.75,449.9 1321.92,299.0 1322.26,358.9 1322.59,265.4 1322.92,364.0 1323.25,269.0 1323.58,372.6 1323.75,250.7 1324.07,250.7 1324.08,427.7 1324.40,427.7 1324.57,277.8 1324.91,353.1 1325.24,273.1 1325.57,338.9 1325.90,294.3 1326.23,397.9 1326.40,242.3 1326.72,242.3 1326.73,422.4 1327.05,422.4 1327.22,248.8 1327.56,361.3 1327.89,297.4 1328.22,382.9 1328.55,273.7 1328.88,343.4 1329.05,238.2 1329.37,238.2 1329.38,427.5 1329.70,427.5 1329.87,297.0 1330.21,339.5 1330.54,294.6 1330.87,367.2 1331.20,258.0 1331.53,340.3 1331.70,235.1 1332.02,235.1 1332.03,433.2 1332.35,433.2 1332.52,287.6 1332.86,353.8 1333.19,255.3 1333.52,417.9 1333.85,236.7 1334.18,392.7 1334.35,231.1 1334.67,231.1 1334.68,435.5 1335.00,435.5 1335.17,274.6 1335.51,425.7 1335.84,294.3 1336.17,360.2 1336.50,285.2 1336.83,352.1 1337.00,223.4 1337.32,223.4 1337.33,439.0 1337.65,439.0 1337.82,289.8 1338.16,341.7 1338.49,272.0 1338.82,355.3 1339.15,255.3 1339.48,374.4 1339.65,213.8 1339.97,213.8 1339.98,437.4 1340.30,437.4 1340.47,232.8 1340.81,350.6 1341.14,260.5 1341.47,397.6 1341.80,281.4 1342.13,354.5 1342.30,215.4 1342.62,215.4 1342.63,435.4 1342.95,435.4 1343.12,272.9 1343.46,340.9 1343.79,289.2 1344.12,370.7 1344.45,222.2 1344.78,434.2 1344.95,217.8 1345.27,217.8 1345.28,434.1 1345.60,434.1 1345.77,274.4 1346.11,353.5 1346.44,282.9 1346.77,390.4 1347.10,256.0 1347.43,364.9 1347.60,214.6 1347.92,214.6 1347.93,438.8 1348.25,438.8 1348.42,257.7 1348.76,424.7 1349.09,219.5 1349.42,438.5 1349.75,231.4 1350.08,343.2 1350.25,206.2 1350.57,206.2 1350.58,448.3 1350.90,448.3 1351.07,283.1 1351.41,376.0 1351.74,288.2 1352.07,346.6 1352.40,276.2 1352.73,344.7 1352.90,198.4 1353.22,198.4 1353.23,456.0 1353.55,456.0 1353.72,222.6 1354.06,352.3 1354.39,276.2 1354.72,412.3 1355.05,261.5 1355.38,345.8 1355.55,195.4 1355.87,195.4 1355.88,461.6 1356.20,461.6 1356.37,283.7 1356.71,350.3 1357.04,253.3 1357.37,368.2 1357.70,280.6 1358.03,375.1 1358.20,190.1 1358.52,190.1 1358.53,464.3 1358.85,464.3 1359.02,279.8 1359.36,352.4 1359.69,214.3 1360.02,345.4 1360.35,276.4 1360.68,347.2 1360.85,192.0 1361.17,192.0 1361.18,455.4 1361.50,455.4 1361.67,285.7 1362.01,421.2 1362.34,244.4 1362.67,346.8 1363.00,210.6 1363.33,349.3 1363.50,195.3 1363.82,195.3 1363.83,448.8 1364.15,448.8 1364.32,270.7 1364.66,363.3 1364.99,216.7 1365.32,409.7 1365.65,264.1 1365.98,342.4 1366.15,200.3 1366.47,200.3 1366.48,440.8 1366.80,440.8 1366.97,202.5 1367.31,379.8 1367.64,277.0 1367.97,349.1 1368.30,242.4 1368.63,340.5 1368.80,207.6 1369.12,207.6 1369.13,429.8 1369.45,429.8 1369.62,277.3 1369.96,377.6 1370.29,280.4 1370.62,339.1 1370.95,280.1 1371.28,337.8 1371.45,216.7 1371.77,216.7 1371.78,417.7 1372.10,417.7 1372.27,244.4 1372.61,338.3 1372.94,277.5 1373.27,408.6 1373.60,247.8 1373.93,393.4 1374.10,226.5 1374.42,226.5 1374.43,407.1 1374.75,407.1 1374.92,275.0 1375.26,355.8 1375.59,283.7 1375.92,340.7 1376.25,293.5 1376.58,334.6 1376.75,236.0 1377.07,236.0 1377.08,403.4 1377.40,403.4 1377.57,281.3 1377.91,335.1 1378.24,261.3 1378.57,334.4 1378.90,250.4 1379.23,359.5 1379.40,243.7 1379.72,243.7 1379.73,404.8 1380.05,404.8 1380.22,263.7 1380.56,334.7 1380.89,299.4 1381.22,349.6 1381.55,295.9 1381.88,342.9 1382.05,246.3 1382.37,246.3 1382.38,406.9 1382.70,406.9 1382.87,247.5 1383.21,363.8 1383.54,298.6 1383.87,371.0 1384.20,285.0 1384.53,365.9 1384.70,243.1 1385.02,243.1 1385.03,411.3 1385.35,411.3 1385.52,297.8 1385.86,411.4 1386.19,287.0 1386.52,337.7 1386.85,291.3 1387.18,343.0 1387.35,239.7 1387.67,239.7 1387.68,414.2 1388.00,414.2 1388.17,297.2 1388.51,371.1 1388.84,284.3 1389.17,383.9 1389.50,296.8 1389.83,390.8 1390.00,235.3 1390.32,235.3 1390.33,413.0 1390.65,413.0 1390.82,284.4 1391.16,336.6 1391.49,281.1 1391.82,336.2 1392.15,248.4 1392.48,337.1 1392.65,233.3 1392.97,233.3 1392.98,409.6 1393.30,409.6 1393.47,291.0 1393.81,337.1 1394.14,244.7 1394.47,335.0 1394.80,293.1 1395.13,339.5 1395.30,233.9 1395.62,233.9 1395.63,403.7 1395.95,403.7 1396.12,295.8 1396.46,351.6 1396.79,266.5 1397.12,362.1 1397.45,284.5 1397.78,336.9 1397.95,238.6 1398.27,238.6 1398.28,394.9 1398.60,394.9 1398.77,277.1 1399.11,340.4 1399.44,247.7 1399.77,332.6 1400.10,266.1 1400.43,355.6 1400.60,251.2 1400.92,251.2 1400.93,382.3 1401.25,382.3 1401.42,299.7 1401.76,369.1 1402.09,296.8 1402.42,345.9 1402.75,269.0 1403.08,339.1 1403.25,270.6 1403.57,270.6 1403.58,363.8 1403.90,363.8 1404.07,297.0 1404.41,326.9 1404.74,304.9 1405.07,328.6 1405.40,286.4 1405.73,335.8 1405.90,286.7 1406.22,286.7 1406.23,354.8 1406.55,354.8 1406.72,308.3 1407.06,345.3 1407.39,310.1 1407.72,350.2 1408.05,307.0 1408.38,327.4 1408.55,289.0 1408.87,289.0 1408.88,354.1 1409.20,354.1 1409.37,308.5 1409.71,328.3 1410.04,310.9 1410.37,326.0 1410.70,316.8 1411.03,320.2 1411.20,316.4 1411.52,316.4" stroke="#4DBEEE"/>
<polyline points="1423.00,316.8 1423.35,325.0 1423.58,306.8 1423.82,306.8 1423.93,356.7 1424.17,356.7 1424.40,305.0 1424.75,342.6 1425.10,303.8 1425.45,349.3 1425.80,291.5 1426.15,322.1 1426.38,276.3 1426.62,276.3 1426.73,368.6 1426.97,368.6 1427.20,298.1 1427.55,339.7 1427.90,275.7 1428.25,340.0 1428.60,297.2 1428.95,353.9 1429.18,275.0 1429.42,275.0 1429.53,371.0 1429.77,371.0 1430.00,304.4 1430.35,335.5 1430.70,279.0 1431.05,335.9 1431.40,304.5 1431.75,367.9 1431.98,278.2 1432.22,278.2 1432.33,367.7 1432.57,367.7 1432.80,299.1 1433.15,325.1 1433.50,307.7 1433.85,340.8 1434.20,295.7 1434.55,362.0 1434.78,282.3 1435.02,282.3 1435.13,364.0 1435.37,364.0 1435.60,292.0 1435.95,322.9 1436.30,302.5 1436.65,335.1 1437.00,306.0 1437.35,322.0 1437.58,282.5 1437.82,282.5 1437.93,366.4 1438.17,366.4 1438.40,302.0 1438.75,327.8 1439.10,286.5 1439.45,333.2 1439.80,303.2 1440.15,368.7 1440.38,279.2 1440.62,279.2 1440.73,373.5 1440.97,373.5 1441.20,305.2 1441.55,349.2 1441.90,288.1 1442.25,356.8 1442.60,297.6 1442.95,324.3 1443.18,267.2 1443.42,267.2 1443.53,377.8 1443.77,377.8 1444.00,298.8 1444.35,324.7 1444.70,299.6 1445.05,393.5 1445.40,299.6 1445.75,326.2 1445.98,239.5 1446.22,239.5 1446.33,410.5 1446.57,410.5 1446.80,286.0 1447.15,369.2 1447.50,258.1 1447.85,344.4 1448.20,249.8 1448.55,349.1 1448.78,210.4 1449.02,210.4 1449.13,466.3 1449.37,466.3 1449.60,289.2 1449.95,371.8 1450.30,281.9 1450.65,340.0 1451.00,217.0 1451.35,347.6 1451.58,189.8 1451.82,189.8 1451.93,505.7 1452.17,505.7 1452.40,253.4 1452.75,337.0 1453.10,267.6 1453.45,390.7 1453.80,269.6 1454.15,515.5 1454.38,161.0 1454.62,161.0 1454.73,526.4 1454.97,526.4 1455.20,183.8 1455.55,337.9 1455.90,274.1 1456.25,486.7 1456.60,252.0 1456.95,339.1 1457.18,174.1 1457.42,174.1 1457.53,509.4 1457.77,509.4 1458.00,244.8 1458.35,335.6 1458.70,283.6 1459.05,352.2 1459.40,284.9 1459.75,334.9 1459.98,192.0 1460.22,192.0 1460.33,489.4 1460.57,489.4 1460.80,285.7 1461.15,442.9 1461.50,274.7 1461.85,442.7 1462.20,254.8 1462.55,378.2 1462.78,202.8 1463.02,202.8 1463.13,479.2 1463.37,479.2 1463.60,284.6 1463.95,337.9 1464.30,229.5 1464.65,335.6 1465.00,280.0 1465.35,399.8 1465.58,215.1 1465.82,215.1 1465.93,470.3 1466.17,470.3 1466.40,228.5 1466.75,334.7 1467.10,287.2 1467.45,430.5 1467.80,285.8 1468.15,340.4 1468.38,215.6 1468.62,215.6 1468.73,468.3 1468.97,468.3 1469.20,216.2 1469.55,416.4 1469.90,237.3 1470.25,335.8 1470.60,288.2 1470.95,401.9 1471.18,215.0 1471.42,215.0 1471.53,475.4 1471.77,475.4 1472.00,287.9 1472.35,337.2 1472.70,289.4 1473.05,350.0 1473.40,270.4 1473.75,380.3 1473.98,209.8 1474.22,209.8 1474.33,486.4 1474.57,486.4 1474.80,288.8 1475.15,340.2 1475.50,286.7 1475.85,469.5 1476.20,277.6 1476.55,335.4 1476.78,203.5 1477.02,203.5 1477.13,494.4 1477.37,494.4 1477.60,232.9 1477.95,382.7 1478.30,274.4 1478.65,347.3 1479.00,278.1 1479.35,412.7 1479.58,193.2 1479.82,193.2 1479.93,467.3 1480.17,467.3 1480.40,226.7 1480.75,377.4 1481.10,254.8 1481.45,336.4 1481.80,289.2 1482.15,334.1 1482.38,230.4 1482.62,230.4 1482.73,443.6 1482.97,443.6 1483.20,245.2 1483.55,391.0 1483.90,257.4 1484.25,339.6 1484.60,263.1 1484.95,329.0 1485.18,241.6 1485.42,241.6 1485.53,428.0 1485.77,428.0 1486.00,248.1 1486.35,402.5 1486.70,298.1 1487.05,382.8 1487.40,266.2 1487.75,328.9 1487.98,252.8 1488.22,252.8 1488.33,436.7 1488.57,436.7 1488.80,281.8 1489.15,409.8 1489.50,271.9 1489.85,331.5 1490.20,281.1 1490.55,355.9 1490.78,234.4 1491.02,234.4 1491.13,441.4 1491.37,441.4 1491.60,288.7 1491.95,330.6 1492.30,294.1 1492.65,369.7 1493.00,246.4 1493.35,344.0 1493.58,245.6 1493.82,245.6 1493.93,434.1 1494.17,434.1 1494.40,276.9 1494.75,363.9 1495.10,300.2 1495.45,397.1 1495.80,299.1 1496.15,328.8 1496.38,251.4 1496.62,251.4 1496.73,417.9 1496.97,417.9 1497.20,272.7 1497.55,331.8 1497.90,256.2 1498.25,358.7 1498.60,264.4 1498.95,344.7 1499.18,249.0 1499.42,249.0 1499.53,439.4 1499.77,439.4 1500.00,281.4 1500.35,342.0 1500.70,293.7 1501.05,335.3 1501.40,302.2 1501.75,344.7 1501.98,261.1 1502.22,261.1 1502.33,430.1 1502.57,430.1 1502.80,301.2 1503.15,420.7 1503.50,269.0 1503.85,337.9 1504.20,274.7 1504.55,356.0 1504.78,256.0 1505.02,256.0 1505.13,437.6 1505.37,437.6 1505.60,272.6 1505.95,331.4 1506.30,268.3 1506.65,329.7 1507.00,303.3 1507.35,348.5 1507.58,263.9 1507.82,263.9 1507.93,446.5 1508.17,446.5 1508.40,295.3 1508.75,347.8 1509.10,273.5 1509.45,426.5 1509.80,300.4 1510.15,335.5 1510.38,269.4 1510.62,269.4 1510.73,450.6 1510.97,450.6 1511.20,299.8 1511.55,375.6 1511.90,305.3 1512.25,381.0 1512.60,285.4 1512.95,336.4 1513.18,267.4 1513.42,267.4 1513.53,423.9 1513.77,423.9 1514.00,300.9 1514.35,387.8 1514.70,290.2 1515.05,333.3 1515.40,276.4 1515.75,357.6 1515.98,259.5 1516.22,259.5 1516.33,432.0 1516.57,432.0 1516.80,291.2 1517.15,417.2 1517.50,296.5 1517.85,341.9 1518.20,257.2 1518.55,340.0 1518.78,254.0 1519.02,254.0 1519.13,427.3 1519.37,427.3 1519.60,295.2 1519.95,329.3 1520.30,268.4 1520.65,350.5 1521.00,300.4 1521.35,328.4 1521.58,258.5 1521.82,258.5 1521.93,429.1 1522.17,429.1 1522.40,291.9 1522.75,374.5 1523.10,297.9 1523.45,329.6 1523.80,296.1 1524.15,329.6 1524.38,255.0 1524.62,255.0 1524.73,431.9 1524.97,431.9 1525.20,276.3 1525.55,335.2 1525.90,277.4 1526.25,383.0 1526.60,301.4 1526.95,380.8 1527.18,260.1 1527.42,260.1 1527.53,433.4 1527.77,433.4 1528.00,286.2 1528.35,334.2 1528.70,302.6 1529.05,375.2 1529.40,277.3 1529.75,329.6 1529.98,264.9 1530.22,264.9 1530.33,420.4 1530.57,420.4 1530.80,301.2 1531.15,326.5 1531.50,270.6 1531.85,350.2 1532.20,278.6 1532.55,332.4 1532.78,276.3 1533.02,276.3 1533.13,365.9 1533.37,365.9 1533.60,314.4 1533.95,327.8 1534.30,314.6 1534.65,338.8 1535.00,314.4 1535.35,334.5 1535.58,288.3 1535.82,288.3 1535.93,353.5 1536.17,353.5 1536.40,306.4 1536.75,343.7 1537.10,296.2 1537.45,322.4 1537.80,305.0 1538.15,319.9 1538.38,282.0 1538.62,282.0 1538.73,351.5 1538.97,351.5 1539.20,290.5 1539.55,333.1 1539.90,309.9 1540.25,327.8 1540.60,302.2 1540.95,325.3 1541.18,283.8 1541.42,283.8 1541.53,352.0 1541.77,352.0 1542.00,312.9 1542.35,336.9 1542.70,299.6 1543.05,329.3 1543.40,299.2 1543.75,335.6 1543.98,290.6 1544.22,290.6 1544.33,335.8 1544.57,335.8 1544.80,313.9 1545.15,325.9 1545.50,295.5 1545.85,323.6 1546.20,315.1 1546.55,318.8 1546.78,291.6 1547.02,291.6 1547.13,343.0 1547.37,343.0 1547.60,298.6 1547.95,320.2 1548.30,311.9 1548.65,322.3 1549.00,315.1 1549.35,319.0 1549.58,293.7 1549.82,293.7 1549.93,340.0 1550.17,340.0 1550.40,301.8 1550.75,318.8 1551.10,302.6 1551.45,319.0 1551.80,311.8 1552.15,324.7 1552.38,292.8 1552.62,292.8 1552.73,336.6 1552.97,336.6 1553.20,294.5 1553.55,335.4 1553.90,314.9 1554.25,323.7 1554.60,307.2 1554.95,331.8 1555.18,289.0 1555.42,289.0 1555.53,339.0 1555.77,339.0 1556.00,301.5 1556.35,319.1 1556.70,314.8 1557.05,318.7 1557.40,308.4 1557.75,321.6 1557.98,291.2 1558.22,291.2 1558.33,337.4 1558.57,337.4 1558.80,315.0 1559.15,333.3 1559.50,300.3 1559.85,332.8 1560.20,305.9 1560.55,319.3 1560.78,296.0 1561.02,296.0 1561.13,333.1 1561.37,333.1 1561.60,314.1 1561.95,319.7 1562.30,310.1 1562.65,321.9 1563.00,311.6 1563.35,320.6 1563.58,306.5 1563.82,306.5 1563.93,328.2 1564.17,328.2 1564.40,315.7 1564.75,318.0 1565.10,309.2 1565.45,323.5 1565.80,312.5 1566.15,317.8 1566.38,305.0 1566.62,305.0 1566.73,326.1 1566.97,326.1 1567.20,307.4 1567.55,317.9 1567.90,314.2 1568.25,317.7 1568.60,316.1 1568.95,320.2 1569.18,312.7 1569.42,312.7 1569.53,324.7 1569.77,324.7 1570.00,314.2 1570.35,317.6 1570.70,315.9 1571.05,317.9 1571.40,316.8 1571.75,317.8 1571.98,314.8 1572.22,314.8 1572.33,323.3 1572.57,323.3 1572.80,315.2 1573.15,317.5 1573.50,316.6 1573.85,323.3 1574.20,315.4 1574.55,318.9 1574.78,309.3 1575.02,309.3 1575.13,324.0 1575.37,324.0 1575.60,315.1 1575.95,319.0 1576.30,316.2 1576.65,320.9 1577.00,316.3 1577.35,317.7 1577.58,308.4 1577.82,308.4 1577.93,325.3 1578.17,325.3 1578.40,316.1 1578.75,317.9 1579.10,316.3 1579.45,319.5 1579.80,312.8 1580.15,317.7 1580.38,308.8 1580.62,308.8 1580.73,326.0 1580.97,326.0 1581.20,316.3 1581.55,318.8 1581.90,316.2 1582.25,317.7 1582.60,309.1 1582.95,317.6 1583.18,308.7 1583.42,308.7 1583.53,324.7 1583.77,324.7 1584.00,315.8 1584.35,317.6 1584.70,311.2 1585.05,317.6 1585.40,315.8 1585.75,322.1 1585.98,308.4 1586.22,308.4 1586.33,323.3 1586.57,323.3 1586.80,315.9 1587.15,319.7 1587.50,312.3 1587.85,317.5 1588.20,310.6 1588.55,317.4 1588.78,310.3 1589.02,310.3 1589.13,322.1 1589.37,322.1 1589.60,316.5 1589.95,317.4 1590.30,312.3 1590.65,317.4 1591.00,313.1 1591.35,317.4 1591.58,312.6 1591.82,312.6 1591.93,321.0 1592.17,321.0 1592.40,313.2 1592.75,317.3 1593.10,314.8 1593.45,317.4 1593.80,314.3 1594.15,318.5 1594.38,314.3 1594.62,314.3 1594.73,319.9 1594.97,319.9 1595.20,316.8 1595.55,317.4 1595.90,316.8 1596.25,317.9 1596.60,316.5 1596.95,317.2 1597.18,315.4 1597.42,315.4 1597.53,319.1 1597.77,319.1 1598.00,316.9 1598.35,317.2 1598.70,316.9 1599.05,317.3 1599.40,316.7 1599.75,317.5 1599.98,315.1 1600.22,315.1 1600.33,319.4 1600.57,319.4 1600.80,316.0 1601.15,317.3 1601.50,316.7 1601.85,317.5 1602.20,316.7 1602.55,318.2 1602.78,314.1 1603.02,314.1 1603.13,319.8 1603.37,319.8 1603.60,316.5 1603.95,317.3 1604.30,314.8 1604.65,317.4 1605.00,316.5 1605.35,317.5 1605.58,313.0 1605.82,313.0 1605.93,320.0 1606.17,320.0 1606.40,314.7 1606.75,319.6 1607.10,316.6 1607.45,317.3 1607.80,315.0 1608.15,317.3 1608.38,313.4 1608.62,313.4 1608.73,320.0 1608.97,320.0 1609.20,316.0 1609.55,319.5 1609.90,314.7 1610.25,317.8 1610.60,316.5 1610.95,319.8 1611.18,314.2 1611.42,314.2 1611.53,319.4 1611.77,319.4 1612.00,316.1 1612.35,317.7 1612.70,316.2 1613.05,317.1 1613.40,316.8 1613.75,317.1 1613.98,315.7 1614.22,315.7 1614.33,317.3 1614.57,317.3 1614.80,316.8 1615.15,317.0" stroke="#A2142F"/>
<polyline points="1626.60,316.6 1626.94,317.2 1627.10,314.7 1627.46,314.7 1627.43,318.2 1627.79,318.2 1627.95,315.3 1628.29,318.5 1628.63,313.0 1628.96,318.0 1629.30,313.0 1629.64,318.8 1629.80,307.0 1630.16,307.0 1630.13,322.0 1630.49,322.0 1630.65,310.5 1630.99,320.9 1631.33,310.9 1631.66,318.7 1632.00,311.7 1632.34,320.2 1632.50,313.7 1632.86,313.7 1632.83,320.5 1633.19,320.5 1633.35,315.7 1633.69,318.6 1634.03,314.7 1634.36,319.0 1634.70,314.9 1635.04,318.4 1635.20,314.2 1635.56,314.2 1635.53,320.4 1635.89,320.4 1636.05,314.7 1636.39,319.5 1636.73,314.1 1637.06,320.1 1637.40,314.6 1637.74,318.6 1637.90,313.3 1638.26,313.3 1638.23,321.3 1638.59,321.3 1638.75,314.5 1639.09,318.6 1639.43,313.0 1639.76,321.5 1640.10,313.0 1640.44,319.7 1640.60,311.2 1640.96,311.2 1640.93,323.3 1641.29,323.3 1641.45,311.9 1641.79,322.4 1642.13,310.4 1642.46,322.6 1642.80,311.4 1643.14,319.8 1643.30,309.0 1643.66,309.0 1643.63,325.4 1643.99,325.4 1644.15,308.7 1644.49,320.0 1644.83,311.8 1645.16,323.1 1645.50,308.8 1645.84,320.1 1646.00,308.0 1646.36,308.0 1646.33,327.0 1646.69,327.0 1646.85,308.0 1647.19,321.5 1647.53,311.8 1647.86,324.8 1648.20,310.9 1648.54,321.9 1648.70,306.8 1649.06,306.8 1649.03,327.0 1649.39,327.0 1649.55,310.5 1649.89,320.9 1650.23,307.6 1650.56,322.4 1650.90,306.4 1651.24,332.0 1651.40,302.0 1651.76,302.0 1651.73,341.0 1652.09,341.0 1652.25,300.0 1652.59,325.7 1652.93,303.7 1653.26,329.7 1653.60,300.6 1653.94,326.1 1654.10,296.1 1654.46,296.1 1654.43,336.0 1654.79,336.0 1654.95,301.5 1655.29,325.4 1655.63,301.7 1655.96,329.6 1656.30,301.8 1656.64,337.8 1656.80,290.6 1657.16,290.6 1657.13,356.6 1657.49,356.6 1657.65,292.0 1657.99,354.3 1658.33,289.5 1658.66,338.3 1659.00,279.3 1659.34,333.5 1659.50,272.6 1659.86,272.6 1659.83,370.5 1660.19,370.5 1660.35,282.6 1660.69,364.2 1661.03,273.2 1661.36,374.0 1661.70,263.1 1662.04,336.9 1662.20,255.0 1662.56,255.0 1662.53,378.0 1662.89,378.0 1663.05,282.2 1663.39,348.9 1663.73,257.8 1664.06,336.9 1664.40,283.0 1664.74,337.1 1664.90,260.0 1665.26,260.0 1665.23,366.2 1665.59,366.2 1665.75,276.1 1666.09,359.7 1666.43,273.6 1666.76,349.9 1667.10,283.3 1667.44,334.2 1667.60,258.6 1667.96,258.6 1667.93,374.4 1668.29,374.4 1668.45,259.6 1668.79,343.0 1669.13,268.4 1669.46,358.9 1669.80,278.5 1670.14,337.1 1670.30,222.0 1670.66,222.0 1670.63,384.0 1670.99,384.0 1671.15,257.7 1671.49,340.3 1671.83,260.5 1672.16,348.7 1672.50,270.6 1672.84,342.5 1673.00,258.6 1673.36,258.6 1673.33,372.3 1673.69,372.3 1673.85,285.5 1674.19,369.8 1674.53,278.5 1674.86,365.5 1675.20,288.5 1675.54,333.2 1675.70,268.4 1676.06,268.4 1676.03,369.1 1676.39,369.1 1676.55,285.1 1676.89,356.3 1677.23,281.8 1677.56,329.4 1677.90,291.1 1678.24,331.3 1678.40,283.1 1678.76,283.1 1678.73,347.3 1679.09,347.3 1679.25,299.9 1679.59,342.6 1679.93,296.7 1680.26,329.1 1680.60,295.3 1680.94,328.5 1681.10,293.0 1681.46,293.0 1681.43,350.0 1681.79,350.0 1681.95,300.7 1682.29,328.5 1682.63,302.3 1682.96,344.5 1683.30,296.8 1683.64,331.7 1683.80,288.0 1684.16,288.0 1684.13,345.0 1684.49,345.0 1684.65,300.4 1684.99,343.0 1685.33,303.5 1685.66,335.0 1686.00,303.5 1686.34,328.9 1686.50,289.2 1686.86,289.2 1686.83,350.2 1687.19,350.2 1687.35,292.3 1687.69,348.0 1688.03,276.9 1688.36,335.4 1688.70,288.1 1689.04,356.4 1689.20,266.4 1689.56,266.4 1689.53,383.3 1689.89,383.3 1690.05,275.5 1690.39,366.7 1690.73,258.3 1691.06,386.8 1691.40,255.5 1691.74,351.7 1691.90,246.0 1692.26,246.0 1692.23,397.1 1692.59,397.1 1692.75,272.2 1693.09,393.5 1693.43,268.1 1693.76,373.0 1694.10,251.5 1694.44,390.2 1694.60,238.1 1694.96,238.1 1694.93,398.4 1695.29,398.4 1695.45,271.9 1695.79,342.5 1696.13,267.3 1696.46,369.0 1696.80,257.7 1697.14,344.9 1697.30,231.1 1697.66,231.1 1697.63,407.1 1697.99,407.1 1698.15,255.1 1698.49,387.5 1698.83,250.8 1699.16,399.1 1699.50,236.5 1699.84,368.9 1700.00,223.1 1700.36,223.1 1700.33,415.0 1700.69,415.0 1700.85,254.6 1701.19,362.1 1701.53,250.5 1701.86,353.4 1702.20,243.6 1702.54,351.5 1702.70,214.3 1703.06,214.3 1703.03,424.5 1703.39,424.5 1703.55,256.3 1703.89,364.1 1704.23,248.7 1704.56,355.1 1704.90,237.9 1705.24,357.0 1705.40,209.5 1705.76,209.5 1705.73,430.0 1706.09,430.0 1706.25,240.1 1706.59,393.2 1706.93,238.0 1707.26,377.6 1707.60,245.8 1707.94,371.0 1708.10,209.0 1708.46,209.0 1708.43,425.0 1708.79,425.0 1708.95,219.5 1709.29,358.6 1709.63,250.2 1709.96,364.7 1710.30,222.4 1710.64,408.4 1710.80,211.0 1711.16,211.0 1711.13,425.0 1711.49,425.0 1711.65,230.8 1711.99,403.4 1712.33,250.8 1712.66,385.7 1713.00,228.8 1713.34,362.6 1713.50,216.4 1713.86,216.4 1713.83,409.9 1714.19,409.9 1714.35,256.8 1714.69,358.0 1715.03,245.0 1715.36,400.3 1715.70,263.2 1716.04,343.2 1716.20,230.3 1716.56,230.3 1716.53,397.3 1716.89,397.3 1717.05,270.4 1717.39,368.1 1717.73,272.8 1718.06,360.8 1718.40,273.0 1718.74,365.6 1718.90,246.4 1719.26,246.4 1719.23,386.3 1719.59,386.3 1719.75,274.9 1720.09,338.1 1720.43,279.8 1720.76,344.3 1721.10,282.5 1721.44,342.1 1721.60,263.4 1721.96,263.4 1721.93,387.5 1722.29,387.5 1722.45,271.6 1722.79,356.1 1723.13,281.1 1723.46,369.6 1723.80,274.0 1724.14,363.0 1724.30,270.7 1724.66,270.7 1724.63,393.8 1724.99,393.8 1725.15,291.4 1725.49,366.5 1725.83,290.9 1726.16,363.5 1726.50,289.6 1726.84,387.5 1727.00,271.0 1727.36,271.0 1727.33,401.5 1727.69,401.5 1727.85,278.1 1728.19,351.7 1728.53,279.3 1728.86,355.3 1729.20,285.1 1729.54,352.3 1729.70,264.7 1730.06,264.7 1730.03,408.0 1730.39,408.0 1730.55,286.0 1730.89,350.3 1731.23,284.6 1731.56,392.1 1731.90,273.2 1732.24,366.4 1732.40,258.2 1732.76,258.2 1732.73,412.0 1733.09,412.0 1733.25,268.7 1733.59,369.3 1733.93,276.5 1734.26,369.1 1734.60,255.8 1734.94,372.5 1735.10,255.0 1735.46,255.0 1735.43,408.5 1735.79,408.5 1735.95,283.5 1736.29,345.3 1736.63,265.2 1736.96,402.3 1737.30,284.8 1737.64,344.4 1737.80,260.2 1738.16,260.2 1738.13,407.2 1738.49,407.2 1738.65,283.6 1738.99,370.5 1739.33,270.6 1739.66,344.5 1740.00,264.9 1740.34,352.9 1740.50,263.4 1740.86,263.4 1740.83,410.4 1741.19,410.4 1741.35,282.4 1741.69,362.3 1742.03,290.0 1742.36,364.5 1742.70,283.7 1743.04,360.7 1743.20,262.3 1743.56,262.3 1743.53,416.3 1743.89,416.3 1744.05,268.5 1744.39,416.5 1744.73,280.5 1745.06,406.3 1745.40,268.8 1745.74,350.9 1745.90,256.1 1746.26,256.1 1746.23,423.0 1746.59,423.0 1746.75,278.2 1747.09,351.4 1747.43,264.9 1747.76,392.9 1748.10,255.0 1748.44,375.1 1748.60,245.0 1748.96,245.0 1748.93,422.7 1749.29,422.7 1749.45,273.7 1749.79,384.8 1750.13,247.7 1750.46,349.2 1750.80,269.2 1751.14,361.4 1751.30,250.7 1751.66,250.7 1751.63,414.6 1751.99,414.6 1752.15,253.9 1752.49,356.2 1752.83,264.0 1753.16,405.4 1753.50,277.6 1753.84,408.0 1754.00,256.3 1754.36,256.3 1754.33,417.1 1754.69,417.1 1754.85,280.1 1755.19,357.6 1755.53,281.3 1755.86,408.0 1756.20,259.6 1756.54,349.6 1756.70,250.9 1757.06,250.9 1757.03,420.1 1757.39,420.1 1757.55,257.2 1757.89,379.6 1758.23,248.6 1758.56,393.5 1758.90,277.3 1759.24,365.2 1759.40,246.0 1759.76,246.0 1759.73,422.0 1760.09,422.0 1760.25,274.1 1760.59,352.8 1760.93,278.5 1761.26,354.8 1761.60,281.4 1761.94,359.0 1762.10,256.7 1762.46,256.7 1762.43,409.5 1762.79,409.5 1762.95,259.5 1763.29,402.1 1763.63,280.0 1763.96,368.3 1764.30,265.2 1764.64,344.8 1764.80,253.5 1765.16,253.5 1765.13,394.4 1765.49,394.4 1765.65,272.9 1765.99,348.5 1766.33,257.9 1766.66,343.7 1767.00,266.1 1767.34,359.0 1767.50,249.0 1767.86,249.0 1767.83,383.5 1768.19,383.5 1768.35,271.9 1768.69,344.8 1769.03,261.5 1769.36,350.8 1769.70,261.5 1770.04,337.8 1770.20,253.4 1770.56,253.4 1770.53,375.5 1770.89,375.5 1771.05,273.7 1771.39,365.0 1771.73,278.6 1772.06,337.6 1772.40,262.7 1772.74,340.3 1772.90,262.0 1773.26,262.0 1773.23,366.1 1773.59,366.1 1773.75,271.7 1774.09,335.4 1774.43,279.9 1774.76,352.4 1775.10,281.4 1775.44,346.2 1775.60,275.5 1775.96,275.5 1775.93,351.6 1776.29,351.6 1776.45,280.7 1776.79,334.9 1777.13,294.7 1777.46,326.0 1777.80,294.5 1778.14,325.8 1778.30,286.0 1778.66,286.0 1778.63,342.6 1778.99,342.6 1779.15,300.8 1779.49,338.8 1779.83,294.9 1780.16,329.3 1780.50,300.9 1780.84,329.4 1781.00,290.7 1781.36,290.7 1781.33,340.0 1781.69,340.0 1781.85,298.5 1782.19,331.5 1782.53,298.1 1782.86,331.8 1783.20,302.2 1783.54,324.8 1783.70,292.7 1784.06,292.7 1784.03,340.0 1784.39,340.0 1784.55,303.5 1784.89,326.0 1785.23,297.6 1785.56,329.1 1785.90,293.4 1786.24,324.7 1786.40,291.9 1786.76,291.9 1786.73,336.7 1787.09,336.7 1787.25,298.1 1787.59,324.6 1787.93,298.5 1788.26,329.1 1788.60,300.0 1788.94,327.9 1789.10,291.4 1789.46,291.4 1789.43,332.4 1789.79,332.4 1789.95,292.9 1790.29,330.7 1790.63,297.3 1790.96,330.8 1791.30,301.2 1791.64,322.5 1791.80,292.0 1792.16,292.0 1792.13,329.7 1792.49,329.7 1792.65,297.5 1792.99,323.1 1793.33,306.9 1793.66,324.9 1794.00,308.1 1794.34,326.1 1794.50,306.3 1794.86,306.3 1794.83,326.5 1795.19,326.5 1795.35,312.2 1795.69,320.6 1796.03,311.8 1796.36,320.1 1796.70,314.2 1797.04,321.3 1797.20,313.5 1797.56,313.5 1797.53,323.0 1797.89,323.0 1798.05,315.6 1798.39,318.6 1798.73,316.0 1799.06,319.0 1799.40,316.0 1799.74,319.9 1799.90,315.6 1800.26,315.6 1800.23,320.3 1800.59,320.3 1800.75,315.4 1801.09,318.9 1801.43,315.3 1801.76,318.7 1802.10,315.2 1802.44,318.5 1802.60,313.8 1802.96,313.8 1802.93,322.3 1803.29,322.3 1803.45,314.8 1803.79,321.3 1804.13,314.0 1804.46,320.5 1804.80,314.0 1805.14,319.4 1805.30,311.9 1805.66,311.9 1805.63,324.4 1805.99,324.4 1806.15,313.3 1806.49,322.9 1806.83,313.0 1807.16,324.9 1807.50,313.0 1807.84,322.0 1808.00,309.8 1808.36,309.8 1808.33,326.3 1808.69,326.3 1808.85,310.1 1809.19,320.0 1809.53,310.5 1809.86,324.9 1810.20,311.8 1810.54,323.0 1810.70,307.1 1811.06,307.1 1811.03,327.7 1811.39,327.7 1811.55,309.1 1811.89,324.1 1812.23,307.9 1812.56,327.2 1812.90,307.9 1813.24,328.4 1813.40,305.0 1813.76,305.0 1813.73,328.6 1814.09,328.6 1814.25,309.9 1814.59,320.3 1814.93,309.4 1815.26,320.3 1815.60,307.3 1815.94,323.8 1816.10,305.5 1816.46,305.5 1816.43,326.3 1816.79,326.3 1816.95,308.8 1817.29,320.4 1817.63,306.4 1817.96,319.5 1818.30,310.0 1818.64,321.7 1818.80,307.3 1819.16,307.3 1819.13,324.3 1819.49,324.3 1819.65,310.5 1819.99,320.1 1820.33,312.5 1820.66,319.5 1821.00,311.5 1821.34,319.3 1821.50,310.7 1821.86,310.7 1821.83,322.4 1822.19,322.4 1822.35,313.3 1822.69,321.2 1823.03,312.8 1823.36,320.3 1823.70,313.0 1824.04,320.4 1824.20,313.2 1824.56,313.2 1824.53,320.8 1824.89,320.8 1825.05,314.8 1825.39,318.2 1825.73,315.1 1826.06,318.0 1826.40,315.2 1826.74,318.1 1826.90,314.5 1827.26,314.5 1827.23,319.8 1827.59,319.8 1827.75,315.8 1828.09,318.3 1828.43,315.8 1828.76,318.8 1829.10,315.8 1829.44,318.4 1829.60,315.0 1829.96,315.0 1829.93,319.3 1830.29,319.3 1830.45,315.1 1830.79,317.9 1831.13,315.5 1831.46,318.1 1831.80,315.9 1832.14,317.6 1832.30,315.0 1832.66,315.0 1832.63,318.9 1832.99,318.9 1833.15,315.3 1833.49,317.9 1833.83,315.2 1834.16,317.7 1834.50,315.5 1834.84,318.1 1835.00,315.0 1835.36,315.0 1835.33,318.8 1835.69,318.8 1835.85,315.6 1836.19,317.9 1836.53,315.4 1836.86,317.6 1837.20,315.5 1837.54,318.1 1837.70,315.0 1838.06,315.0 1838.03,318.5 1838.39,318.5 1838.55,315.7 1838.89,317.4 1839.23,316.0 1839.56,317.3 1839.90,315.9 1840.24,317.1 1840.40,316.2 1840.76,316.2 1840.73,317.3 1841.09,317.3" stroke="#FF00FF"/>
<polyline points="1852.40,316.8 1852.83,317.0 1853.13,314.7 1853.37,314.7 1853.56,318.2 1853.79,318.2 1854.10,314.8 1854.52,318.9 1854.95,315.8 1855.37,317.4 1855.80,314.9 1856.22,320.6 1856.53,311.9 1856.77,311.9 1856.95,323.0 1857.19,323.0 1857.50,315.4 1857.92,321.3 1858.35,313.6 1858.77,324.6 1859.20,309.8 1859.62,318.1 1859.93,308.0 1860.17,308.0 1860.35,326.6 1860.59,326.6 1860.90,314.6 1861.32,317.8 1861.75,314.4 1862.17,318.4 1862.60,314.7 1863.02,318.7 1863.33,306.0 1863.57,306.0 1863.75,322.5 1863.99,322.5 1864.30,308.2 1864.72,318.6 1865.15,314.8 1865.57,321.8 1866.00,314.5 1866.42,318.3 1866.73,311.0 1866.97,311.0 1867.15,321.7 1867.39,321.7 1867.70,315.4 1868.12,317.7 1868.55,315.1 1868.97,317.5 1869.40,312.2 1869.82,318.2 1870.13,310.6 1870.37,310.6 1870.55,321.8 1870.79,321.8 1871.10,314.1 1871.52,318.0 1871.95,313.8 1872.37,319.2 1872.80,314.1 1873.22,319.6 1873.53,305.2 1873.77,305.2 1873.95,343.8 1874.19,343.8 1874.50,310.1 1874.92,352.3 1875.35,305.6 1875.77,324.6 1876.20,306.1 1876.62,329.4 1876.93,274.0 1877.17,274.0 1877.35,377.9 1877.59,377.9 1877.90,284.4 1878.32,328.0 1878.75,285.0 1879.17,331.2 1879.60,298.6 1880.02,327.9 1880.33,262.0 1880.57,262.0 1880.75,408.5 1880.99,408.5 1881.30,279.2 1881.72,328.9 1882.15,275.6 1882.57,333.4 1883.00,287.3 1883.42,370.5 1883.73,238.6 1883.97,238.6 1884.15,428.6 1884.39,428.6 1884.70,255.4 1885.12,332.5 1885.55,283.5 1885.97,333.4 1886.40,295.2 1886.82,351.0 1887.13,234.0 1887.37,234.0 1887.55,433.4 1887.79,433.4 1888.10,251.1 1888.52,371.5 1888.95,289.7 1889.37,346.5 1889.80,269.2 1890.22,384.0 1890.53,236.7 1890.77,236.7 1890.95,405.6 1891.19,405.6 1891.50,296.6 1891.92,381.0 1892.35,294.4 1892.77,336.0 1893.20,259.5 1893.62,328.1 1893.93,252.4 1894.17,252.4 1894.35,387.6 1894.59,387.6 1894.90,300.6 1895.32,338.5 1895.75,270.8 1896.17,333.3 1896.60,267.4 1897.02,334.2 1897.33,253.9 1897.57,253.9 1897.75,399.4 1897.99,399.4 1898.30,296.7 1898.72,327.6 1899.15,272.2 1899.57,340.4 1900.00,276.8 1900.42,329.7 1900.73,245.0 1900.97,245.0 1901.15,396.7 1901.39,396.7 1901.70,299.3 1902.12,332.1 1902.55,261.6 1902.97,375.0 1903.40,262.9 1903.82,329.0 1904.13,252.3 1904.37,252.3 1904.55,395.0 1904.79,395.0 1905.10,291.6 1905.52,346.6 1905.95,297.3 1906.37,336.6 1906.80,293.8 1907.22,326.6 1907.53,250.0 1907.77,250.0 1907.95,395.0 1908.19,395.0 1908.50,300.4 1908.92,392.9 1909.35,260.8 1909.77,392.9 1910.20,270.6 1910.62,326.3 1910.93,252.7 1911.17,252.7 1911.35,394.3 1911.59,394.3 1911.90,299.6 1912.32,326.4 1912.75,262.3 1913.17,382.2 1913.60,274.9 1914.02,329.9 1914.33,257.2 1914.57,257.2 1914.75,399.0 1914.99,399.0 1915.30,297.9 1915.72,327.6 1916.15,302.4 1916.57,336.7 1917.00,276.7 1917.42,326.8 1917.73,267.5 1917.97,267.5 1918.15,395.4 1918.39,395.4 1918.70,272.9 1919.12,327.3 1919.55,285.1 1919.97,331.6 1920.40,283.5 1920.82,367.5 1921.13,255.0 1921.37,255.0 1921.55,387.4 1921.79,387.4 1922.10,297.7 1922.52,328.6 1922.95,301.1 1923.37,327.7 1923.80,301.2 1924.22,356.0 1924.53,256.8 1924.77,256.8 1924.95,374.5 1925.19,374.5 1925.50,274.4 1925.92,349.8 1926.35,261.0 1926.77,328.2 1927.20,302.6 1927.62,348.0 1927.93,260.8 1928.17,260.8 1928.35,361.5 1928.59,361.5 1928.90,303.2 1929.32,322.2 1929.75,290.2 1930.17,337.6 1930.60,293.7 1931.02,330.4 1931.33,272.9 1931.57,272.9 1931.75,357.4 1931.99,357.4 1932.30,306.8 1932.72,325.6 1933.15,298.6 1933.57,323.8 1934.00,306.5 1934.42,328.6 1934.73,279.3 1934.97,279.3 1935.15,360.4 1935.39,360.4 1935.70,283.7 1936.12,353.8 1936.55,307.7 1936.97,328.8 1937.40,306.1 1937.82,324.8 1938.13,279.4 1938.37,279.4 1938.55,356.1 1938.79,356.1 1939.10,307.5 1939.52,322.5 1939.95,295.5 1940.37,322.6 1940.80,284.6 1941.22,349.5 1941.53,277.8 1941.77,277.8 1941.95,369.3 1942.19,369.3 1942.50,279.9 1942.92,324.0 1943.35,297.3 1943.77,333.4 1944.20,303.7 1944.62,327.8 1944.93,274.8 1945.17,274.8 1945.35,380.6 1945.59,380.6 1945.90,305.0 1946.32,333.6 1946.75,277.5 1947.17,330.6 1947.60,302.4 1948.02,375.2 1948.33,271.3 1948.57,271.3 1948.75,384.4 1948.99,384.4 1949.30,303.7 1949.72,347.3 1950.15,300.1 1950.57,340.1 1951.00,299.3 1951.42,325.0 1951.73,269.0 1951.97,269.0 1952.15,380.6 1952.39,380.6 1952.70,273.5 1953.12,328.6 1953.55,302.9 1953.97,324.9 1954.40,302.7 1954.82,328.2 1955.13,273.5 1955.37,273.5 1955.55,372.4 1955.79,372.4 1956.10,303.9 1956.52,356.6 1956.95,301.0 1957.37,352.3 1957.80,307.4 1958.22,324.2 1958.53,280.9 1958.77,280.9 1958.95,367.1 1959.19,367.1 1959.50,308.6 1959.92,333.2 1960.35,307.5 1960.77,324.0 1961.20,302.5 1961.62,336.8 1961.93,291.0 1962.17,291.0 1962.35,363.4 1962.59,363.4 1962.90,306.5 1963.32,350.0 1963.75,310.4 1964.17,323.9 1964.60,304.3 1965.02,322.2 1965.33,289.4 1965.57,289.4 1965.75,358.8 1965.99,358.8 1966.30,306.8 1966.72,340.2 1967.15,307.0 1967.57,346.2 1968.00,306.5 1968.42,320.3 1968.73,280.0 1968.97,280.0 1969.15,341.7 1969.39,341.7 1969.70,310.0 1970.12,342.7 1970.55,304.1 1970.97,327.8 1971.40,306.6 1971.82,324.7 1972.13,297.3 1972.37,297.3 1972.55,350.6 1972.79,350.6 1973.10,308.5 1973.52,322.6 1973.95,310.6 1974.37,322.5 1974.80,307.9 1975.22,320.2 1975.53,290.0 1975.77,290.0 1975.95,340.1 1976.19,340.1 1976.50,307.2 1976.92,319.5 1977.35,308.7 1977.77,325.7 1978.20,313.5 1978.62,334.1 1978.93,303.1 1979.17,303.1 1979.35,333.9 1979.59,333.9 1979.90,307.1 1980.32,320.2 1980.75,303.6 1981.17,319.4 1981.60,311.3 1982.02,324.8 1982.33,299.0 1982.57,299.0 1982.75,332.6 1982.99,332.6 1983.30,312.0 1983.72,322.3 1984.15,311.4 1984.57,324.2 1985.00,313.1 1985.42,326.5 1985.73,304.4 1985.97,304.4 1986.15,328.8 1986.39,328.8 1986.70,313.0 1987.12,319.1 1987.55,306.0 1987.97,319.5 1988.40,310.5 1988.82,324.3 1989.13,305.2 1989.37,305.2 1989.55,324.7 1989.79,324.7 1990.10,313.5 1990.52,317.9 1990.95,314.3 1991.37,320.3 1991.80,313.4 1992.22,321.3 1992.53,307.7 1992.77,307.7 1992.95,323.5 1993.19,323.5 1993.50,313.9 1993.92,319.7 1994.35,311.3 1994.77,318.6 1995.20,312.9 1995.62,322.7 1995.93,307.0 1996.17,307.0 1996.35,325.0 1996.59,325.0 1996.90,314.5 1997.32,321.8 1997.75,313.6 1998.17,322.5 1998.60,312.3 1999.02,318.1 1999.33,311.9 1999.57,311.9 1999.75,321.1 1999.99,321.1 2000.30,315.0 2000.72,318.1 2001.15,316.6" stroke="#000000"/>
<polyline points="2012.40,316.4 2012.73,317.4 2012.94,307.0 2013.18,307.0 2013.27,320.6 2013.51,320.6 2013.72,310.1 2014.06,321.3 2014.39,309.7 2014.72,321.8 2015.05,308.4 2015.38,321.0 2015.59,307.6 2015.83,307.6 2015.92,324.0 2016.16,324.0 2016.37,308.6 2016.71,319.2 2017.04,312.0 2017.37,322.0 2017.70,310.6 2018.03,324.0 2018.24,306.6 2018.48,306.6 2018.57,325.9 2018.81,325.9 2019.02,310.1 2019.36,323.3 2019.69,306.0 2020.02,326.1 2020.35,308.7 2020.68,323.1 2020.89,304.0 2021.13,304.0 2021.22,330.0 2021.46,330.0 2021.67,308.9 2022.01,329.5 2022.34,308.2 2022.67,321.8 2023.00,310.7 2023.33,325.9 2023.54,311.1 2023.78,311.1 2023.87,324.7 2024.11,324.7 2024.32,312.6 2024.66,322.2 2024.99,314.2 2025.32,321.8 2025.65,312.1 2025.98,319.1 2026.19,312.0 2026.43,312.0 2026.52,322.8 2026.76,322.8 2026.97,313.1 2027.31,321.4 2027.64,312.7 2027.97,322.5 2028.30,313.5 2028.63,319.2 2028.84,310.7 2029.08,310.7 2029.17,324.3 2029.41,324.3 2029.62,312.6 2029.96,320.0 2030.29,310.0 2030.62,321.4 2030.95,308.9 2031.28,323.3 2031.49,307.1 2031.73,307.1 2031.82,326.9 2032.06,326.9 2032.27,306.8 2032.61,321.9 2032.94,309.0 2033.27,326.4 2033.60,306.9 2033.93,330.1 2034.14,301.5 2034.38,301.5 2034.47,336.9 2034.71,336.9 2034.92,306.6 2035.26,334.2 2035.59,300.1 2035.92,327.6 2036.25,304.9 2036.58,325.9 2036.79,295.0 2037.03,295.0 2037.12,346.6 2037.36,346.6 2037.57,305.2 2037.91,325.0 2038.24,306.1 2038.57,327.8 2038.90,304.4 2039.23,325.9 2039.44,289.6 2039.68,289.6 2039.77,345.4 2040.01,345.4 2040.22,288.0 2040.56,332.5 2040.89,298.3 2041.22,331.4 2041.55,289.9 2041.88,336.4 2042.09,283.1 2042.33,283.1 2042.42,358.0 2042.66,358.0 2042.87,288.7 2043.21,351.1 2043.54,296.8 2043.87,333.2 2044.20,296.9 2044.53,338.7 2044.74,280.1 2044.98,280.1 2045.07,355.7 2045.31,355.7 2045.52,296.0 2045.86,338.5 2046.19,294.3 2046.52,332.8 2046.85,290.6 2047.18,360.8 2047.39,277.5 2047.63,277.5 2047.72,365.0 2047.96,365.0 2048.17,289.9 2048.51,339.9 2048.84,293.1 2049.17,333.8 2049.50,280.0 2049.83,340.4 2050.04,272.4 2050.28,272.4 2050.37,366.8 2050.61,366.8 2050.82,273.6 2051.16,338.1 2051.49,282.8 2051.82,351.3 2052.15,287.8 2052.48,347.2 2052.69,267.6 2052.93,267.6 2053.02,378.6 2053.26,378.6 2053.47,288.6 2053.81,376.5 2054.14,286.1 2054.47,342.7 2054.80,288.4 2055.13,370.1 2055.34,265.4 2055.58,265.4 2055.67,375.9 2055.91,375.9 2056.12,277.7 2056.46,345.5 2056.79,274.9 2057.12,344.0 2057.45,264.0 2057.78,340.6 2057.99,262.1 2058.23,262.1 2058.32,382.6 2058.56,382.6 2058.77,272.3 2059.11,350.8 2059.44,275.4 2059.77,356.8 2060.10,271.5 2060.43,339.8 2060.64,255.0 2060.88,255.0 2060.97,390.8 2061.21,390.8 2061.42,279.1 2061.76,350.3 2062.09,278.6 2062.42,366.4 2062.75,256.6 2063.08,352.8 2063.29,256.9 2063.53,256.9 2063.62,392.0 2063.86,392.0 2064.07,284.2 2064.41,340.9 2064.74,284.4 2065.07,349.2 2065.40,259.1 2065.73,342.3 2065.94,257.8 2066.18,257.8 2066.27,392.5 2066.51,392.5 2066.72,283.6 2067.06,380.7 2067.39,281.7 2067.72,342.8 2068.05,260.8 2068.38,346.9 2068.59,251.8 2068.83,251.8 2068.92,398.0 2069.16,398.0 2069.37,276.2 2069.71,388.1 2070.04,271.7 2070.37,370.3 2070.70,271.4 2071.03,356.4 2071.24,246.5 2071.48,246.5 2071.57,407.5 2071.81,407.5 2072.02,274.8 2072.36,383.7 2072.69,275.5 2073.02,355.1 2073.35,276.4 2073.68,379.0 2073.89,243.3 2074.13,243.3 2074.22,411.9 2074.46,411.9 2074.67,251.1 2075.01,362.7 2075.34,270.8 2075.67,346.5 2076.00,261.8 2076.33,408.2 2076.54,238.2 2076.78,238.2 2076.87,415.6 2077.11,415.6 2077.32,241.6 2077.66,399.8 2077.99,248.9 2078.32,376.0 2078.65,267.5 2078.98,388.8 2079.19,236.4 2079.43,236.4 2079.52,412.9 2079.76,412.9 2079.97,267.3 2080.31,407.6 2080.64,268.7 2080.97,394.0 2081.30,240.3 2081.63,350.5 2081.84,234.2 2082.08,234.2 2082.17,416.2 2082.41,416.2 2082.62,251.0 2082.96,356.1 2083.29,260.9 2083.62,355.6 2083.95,255.6 2084.28,385.4 2084.49,228.7 2084.73,228.7 2084.82,421.3 2085.06,421.3 2085.27,257.8 2085.61,363.2 2085.94,238.9 2086.27,421.4 2086.60,261.2 2086.93,369.7 2087.14,225.2 2087.38,225.2 2087.47,426.5 2087.71,426.5 2087.92,266.1 2088.26,415.4 2088.59,236.7 2088.92,365.4 2089.25,240.8 2089.58,368.6 2089.79,224.2 2090.03,224.2 2090.12,431.1 2090.36,431.1 2090.57,228.4 2090.91,376.6 2091.24,233.0 2091.57,387.8 2091.90,253.1 2092.23,429.9 2092.44,221.5 2092.68,221.5 2092.77,434.2 2093.01,434.2 2093.22,221.8 2093.56,415.3 2093.89,240.5 2094.22,391.4 2094.55,223.0 2094.88,375.3 2095.09,218.1 2095.33,218.1 2095.42,435.5 2095.66,435.5 2095.87,225.2 2096.21,377.8 2096.54,236.0 2096.87,356.1 2097.20,260.3 2097.53,357.0 2097.74,216.3 2097.98,216.3 2098.07,440.9 2098.31,440.9 2098.52,221.4 2098.86,356.3 2099.19,256.2 2099.52,421.6 2099.85,245.4 2100.18,364.0 2100.39,212.0 2100.63,212.0 2100.72,444.3 2100.96,444.3 2101.17,213.7 2101.51,368.5 2101.84,220.8 2102.17,386.0 2102.50,216.4 2102.83,370.8 2103.04,212.7 2103.28,212.7 2103.37,447.4 2103.61,447.4 2103.82,243.3 2104.16,402.0 2104.49,237.8 2104.82,406.3 2105.15,229.9 2105.48,368.8 2105.69,211.0 2105.93,211.0 2106.02,448.6 2106.26,448.6 2106.47,234.4 2106.81,396.1 2107.14,239.6 2107.47,440.9 2107.80,249.0 2108.13,439.3 2108.34,211.3 2108.58,211.3 2108.67,451.6 2108.91,451.6 2109.12,215.0 2109.46,362.3 2109.79,225.2 2110.12,369.5 2110.45,258.1 2110.78,382.0 2110.99,212.7 2111.23,212.7 2111.32,447.2 2111.56,447.2 2111.77,216.4 2112.11,356.0 2112.44,252.0 2112.77,374.1 2113.10,246.9 2113.43,371.0 2113.64,211.9 2113.88,211.9 2113.97,447.7 2114.21,447.7 2114.42,250.3 2114.76,407.1 2115.09,244.4 2115.42,413.4 2115.75,240.1 2116.08,375.1 2116.29,206.5 2116.53,206.5 2116.62,449.4 2116.86,449.4 2117.07,211.2 2117.41,384.9 2117.74,243.4 2118.07,365.9 2118.40,211.3 2118.73,410.6 2118.94,202.0 2119.18,202.0 2119.27,446.7 2119.51,446.7 2119.72,245.7 2120.06,411.6 2120.39,252.2 2120.72,403.1 2121.05,242.2 2121.38,402.2 2121.59,202.9 2121.83,202.9 2121.92,443.9 2122.16,443.9 2122.37,224.0 2122.71,436.9 2123.04,242.0 2123.37,361.9 2123.70,251.1 2124.03,405.9 2124.24,203.3 2124.48,203.3 2124.57,447.2 2124.81,447.2 2125.02,241.6 2125.36,362.6 2125.69,206.1 2126.02,360.8 2126.35,252.7 2126.68,417.8 2126.89,203.0 2127.13,203.0 2127.22,448.6 2127.46,448.6 2127.67,251.2 2128.01,378.3 2128.34,232.4 2128.67,429.3 2129.00,219.5 2129.33,355.5 2129.54,204.7 2129.78,204.7 2129.87,440.8 2130.11,440.8 2130.32,233.0 2130.66,401.0 2130.99,208.5 2131.32,437.2 2131.65,217.0 2131.98,391.0 2132.19,207.1 2132.43,207.1 2132.52,440.2 2132.76,440.2 2132.97,251.9 2133.31,398.4 2133.64,221.8 2133.97,423.2 2134.30,213.5 2134.63,367.8 2134.84,208.4 2135.08,208.4 2135.17,441.4 2135.41,441.4 2135.62,235.3 2135.96,433.6 2136.29,223.6 2136.62,378.8 2136.95,253.1 2137.28,420.1 2137.49,209.0 2137.73,209.0 2137.82,438.9 2138.06,438.9 2138.27,247.8 2138.61,374.1 2138.94,233.5 2139.27,427.5 2139.60,251.6 2139.93,375.9 2140.14,214.7 2140.38,214.7 2140.47,436.3 2140.71,436.3 2140.92,255.2 2141.26,413.0 2141.59,235.6 2141.92,379.5 2142.25,248.3 2142.58,363.4 2142.79,217.0 2143.03,217.0 2143.12,434.5 2143.36,434.5 2143.57,260.7 2143.91,393.3 2144.24,217.8 2144.57,354.1 2144.90,218.6 2145.23,355.1 2145.44,219.4 2145.68,219.4 2145.77,435.4 2146.01,435.4 2146.22,222.0 2146.56,359.1 2146.89,236.0 2147.22,392.3 2147.55,251.2 2147.88,410.0 2148.09,221.0 2148.33,221.0 2148.42,436.0 2148.66,436.0 2148.87,247.1 2149.21,403.0 2149.54,241.0 2149.87,386.8 2150.20,235.6 2150.53,357.5 2150.74,222.1 2150.98,222.1 2151.07,438.4 2151.31,438.4 2151.52,242.3 2151.86,377.8 2152.19,231.8 2152.52,434.9 2152.85,262.8 2153.18,373.3 2153.39,223.0 2153.63,223.0 2153.72,438.6 2153.96,438.6 2154.17,227.9 2154.51,392.8 2154.84,256.3 2155.17,398.9 2155.50,255.6 2155.83,388.0 2156.04,224.0 2156.28,224.0 2156.37,437.0 2156.61,437.0 2156.82,250.2 2157.16,395.7 2157.49,246.6 2157.82,387.9 2158.15,238.5 2158.48,355.9 2158.69,225.0 2158.93,225.0 2159.02,432.1 2159.26,432.1 2159.47,240.9 2159.81,371.1 2160.14,264.5 2160.47,419.8 2160.80,232.4 2161.13,424.3 2161.34,221.7 2161.58,221.7 2161.67,426.5 2161.91,426.5 2162.12,227.3 2162.46,381.3 2162.79,225.1 2163.12,406.6 2163.45,261.0 2163.78,353.9 2163.99,219.0 2164.23,219.0 2164.32,427.4 2164.56,427.4 2164.77,237.8 2165.11,382.4 2165.44,226.1 2165.77,404.4 2166.10,260.9 2166.43,364.6 2166.64,219.4 2166.88,219.4 2166.97,425.5 2167.21,425.5 2167.42,263.2 2167.76,387.7 2168.09,260.5 2168.42,377.5 2168.75,220.0 2169.08,351.8 2169.29,219.8 2169.53,219.8 2169.62,428.5 2169.86,428.5 2170.07,221.1 2170.41,413.2 2170.74,262.4 2171.07,391.5 2171.40,228.3 2171.73,362.7 2171.94,221.6 2172.18,221.6 2172.27,430.6 2172.51,430.6 2172.72,259.7 2173.06,365.7 2173.39,257.2 2173.72,423.9 2174.05,259.7 2174.38,371.5 2174.59,224.9 2174.83,224.9 2174.92,426.4 2175.16,426.4 2175.37,227.1 2175.71,386.1 2176.04,233.2 2176.37,352.9 2176.70,242.4 2177.03,354.4 2177.24,223.0 2177.48,223.0 2177.57,423.1 2177.81,423.1 2178.02,262.5 2178.36,406.4 2178.69,247.2 2179.02,373.2 2179.35,264.9 2179.68,411.1 2179.89,227.0 2180.13,227.0 2180.22,420.3 2180.46,420.3 2180.67,267.2 2181.01,388.1 2181.34,258.7 2181.67,375.7 2182.00,249.1 2182.33,400.6 2182.54,232.0 2182.78,232.0 2182.87,418.1 2183.11,418.1 2183.32,239.3 2183.66,350.2 2183.99,270.7 2184.32,359.1 2184.65,263.1 2184.98,395.6 2185.19,232.1 2185.43,232.1 2185.52,418.6 2185.76,418.6 2185.97,241.8 2186.31,411.7 2186.64,248.2 2186.97,384.8 2187.30,237.5 2187.63,358.5 2187.84,229.8 2188.08,229.8 2188.17,417.9 2188.41,417.9 2188.62,267.9 2188.96,399.9 2189.29,264.0 2189.62,360.9 2189.95,251.9 2190.28,349.8 2190.49,228.0 2190.73,228.0 2190.82,417.5 2191.06,417.5 2191.27,268.0 2191.61,380.3 2191.94,256.6 2192.27,351.8 2192.60,242.0 2192.93,366.0 2193.14,231.5 2193.38,231.5 2193.47,418.6 2193.71,418.6 2193.92,257.8 2194.26,348.5 2194.59,262.0 2194.92,354.5 2195.25,270.3 2195.58,357.5 2195.79,231.0 2196.03,231.0 2196.12,408.1 2196.36,408.1 2196.57,252.3 2196.91,347.5 2197.24,274.6 2197.57,347.3 2197.90,268.8 2198.23,345.9 2198.44,243.2 2198.68,243.2 2198.77,398.1 2199.01,398.1 2199.22,251.5 2199.56,358.7 2199.89,254.4 2200.22,378.2 2200.55,261.4 2200.88,377.5 2201.09,249.3 2201.33,249.3 2201.42,390.3 2201.66,390.3 2201.87,268.0 2202.21,370.1 2202.54,262.2 2202.87,338.6 2203.20,260.6 2203.53,337.5 2203.74,256.7 2203.98,256.7 2204.07,382.3 2204.31,382.3 2204.52,264.5 2204.86,336.6 2205.19,270.8 2205.52,344.1 2205.85,286.5 2206.18,342.9 2206.39,264.1 2206.63,264.1 2206.72,375.1 2206.96,375.1 2207.17,270.3 2207.51,334.3 2207.84,286.4 2208.17,340.8 2208.50,290.3 2208.83,366.3 2209.04,271.6 2209.28,271.6 2209.37,368.8 2209.61,368.8 2209.82,290.7 2210.16,358.7 2210.49,289.4 2210.82,336.8 2211.15,283.8 2211.48,331.9 2211.69,278.5 2211.93,278.5 2212.02,362.8 2212.26,362.8 2212.47,292.4 2212.81,352.4 2213.14,291.8 2213.47,330.8 2213.80,291.5 2214.13,331.7 2214.34,282.4 2214.58,282.4 2214.67,358.0 2214.91,358.0 2215.12,293.6 2215.46,332.6 2215.79,294.2 2216.12,354.4 2216.45,285.4 2216.78,344.5 2216.99,281.6 2217.23,281.6 2217.32,354.9 2217.56,354.9 2217.77,287.2 2218.11,338.3 2218.44,294.5 2218.77,330.5 2219.10,291.3 2219.43,331.6 2219.64,279.5 2219.88,279.5 2219.97,352.8 2220.21,352.8 2220.42,285.8 2220.76,348.5 2221.09,286.4 2221.42,329.0 2221.75,291.9 2222.08,348.8 2222.29,278.0 2222.53,278.0 2222.62,351.3 2222.86,351.3 2223.07,289.7 2223.41,346.1 2223.74,287.9 2224.07,341.0 2224.40,292.1 2224.73,331.1 2224.94,289.8 2225.18,289.8 2225.27,345.6 2225.51,345.6 2225.72,303.2 2226.06,337.6 2226.39,304.3 2226.72,323.8 2227.05,297.8 2227.38,323.6 2227.59,300.5 2227.83,300.5 2227.92,331.8 2228.16,331.8 2228.37,303.5 2228.71,320.0 2229.04,308.0 2229.37,323.6 2229.70,310.8 2230.03,319.3 2230.24,308.7 2230.48,308.7 2230.57,324.4 2230.81,324.4 2231.02,311.0 2231.36,321.1 2231.69,310.6 2232.02,321.6 2232.35,311.9 2232.68,319.4 2232.89,310.7 2233.13,310.7 2233.22,323.3 2233.46,323.3 2233.67,311.1 2234.01,320.0 2234.34,311.8 2234.67,321.1 2235.00,313.5 2235.33,318.9 2235.54,311.8 2235.78,311.8 2235.87,322.0 2236.11,322.0 2236.32,312.2 2236.66,319.1 2236.99,314.5 2237.32,318.9 2237.65,314.6 2237.98,321.0 2238.19,313.2 2238.43,313.2 2238.52,320.7 2238.76,320.7 2238.97,314.8 2239.31,320.2 2239.64,314.7 2239.97,319.5 2240.30,314.8 2240.63,319.3 2240.84,314.5 2241.08,314.5 2241.17,320.0 2241.41,320.0 2241.62,315.5 2241.96,319.6 2242.29,315.1 2242.62,319.2 2242.95,315.3 2243.28,317.9 2243.49,314.8 2243.73,314.8 2243.82,320.0 2244.06,320.0 2244.27,315.2 2244.61,319.5 2244.94,315.5 2245.27,318.9 2245.60,314.9 2245.93,319.1 2246.14,314.4 2246.38,314.4 2246.47,319.7 2246.71,319.7 2246.92,314.5 2247.26,318.7 2247.59,315.5 2247.92,319.2 2248.25,315.5 2248.58,317.9 2248.79,314.4 2249.03,314.4 2249.12,319.2 2249.36,319.2 2249.57,315.3 2249.91,318.6 2250.24,314.9 2250.57,317.6 2250.90,315.5 2251.23,318.4 2251.44,314.7 2251.68,314.7 2251.77,318.6 2252.01,318.6 2252.22,315.4 2252.56,318.1 2252.89,315.7 2253.22,317.4 2253.55,315.7 2253.88,318.1 2254.09,315.2 2254.33,315.2 2254.42,318.1 2254.66,318.1 2254.87,315.5 2255.21,317.6 2255.54,316.1 2255.87,317.3 2256.20,316.3 2256.53,317.2 2256.74,315.9 2256.98,315.9 2257.07,317.3 2257.31,317.3 2257.52,316.2 2257.86,317.2 2258.19,316.5 2258.52,317.3" stroke="#008000"/>
</g>
<text class="tk" transform="translate(325.0,610.6) scale(1.01,1.04)" text-anchor="middle">0</text>
<text class="tk" transform="translate(648.0,610.6) scale(1.01,1.04)" text-anchor="middle">0.5</text>
<text class="tk" transform="translate(971.0,610.6) scale(1.01,1.04)" text-anchor="middle">1</text>
<text class="tk" transform="translate(1294.0,610.6) scale(1.01,1.04)" text-anchor="middle">1.5</text>
<text class="tk" transform="translate(1617.0,610.6) scale(1.01,1.04)" text-anchor="middle">2</text>
<text class="tk" transform="translate(1940.0,610.6) scale(1.01,1.04)" text-anchor="middle">2.5</text>
<text class="tk" transform="translate(2263.0,610.6) scale(1.01,1.04)" text-anchor="middle">3</text>
<text class="tk" transform="translate(317.2,56.2) scale(1.01,1.04)" text-anchor="end">0.6</text>
<text class="tk" transform="translate(317.2,145.5) scale(1.01,1.04)" text-anchor="end">0.4</text>
<text class="tk" transform="translate(317.2,234.9) scale(1.01,1.04)" text-anchor="end">0.2</text>
<text class="tk" transform="translate(317.2,324.2) scale(1.01,1.04)" text-anchor="end">0</text>
<text class="tk" transform="translate(317.2,413.5) scale(1.01,1.04)" text-anchor="end">-0.2</text>
<text class="tk" transform="translate(317.2,502.9) scale(1.01,1.04)" text-anchor="end">-0.4</text>
<text class="tk" transform="translate(317.2,592.2) scale(1.01,1.04)" text-anchor="end">-0.6</text>
<text class="lb" transform="translate(1294.3,638.8) scale(1,1.04)" text-anchor="middle">Time (s)</text>
<text class="lb"  transform="translate(269.3,317) rotate(-90) scale(1,1.04)" text-anchor="middle">Amplitude</text>
<text class="tt" x="1294" y="40.8" text-anchor="middle">Sentence JOH-001-182 (Colored by Word)</text>
</svg></body></html>
